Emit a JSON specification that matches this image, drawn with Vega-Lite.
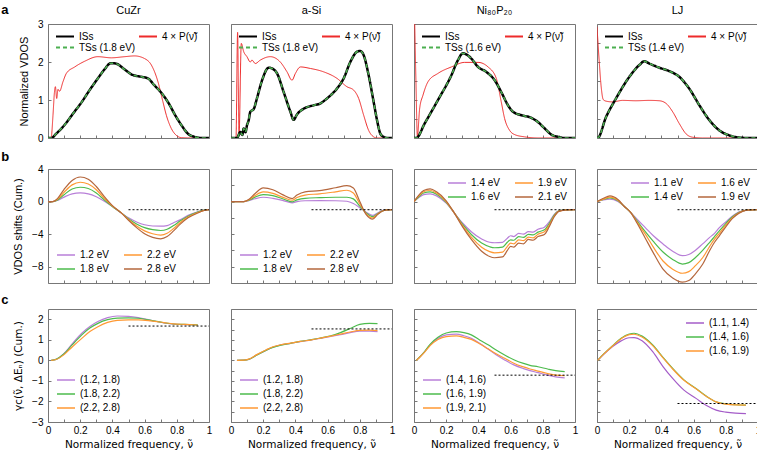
{
"$schema":"https://vega.github.io/schema/vega-lite/v6.json",
"padding":{"left":0,"top":3,"right":2,"bottom":0},
"config":{
 "font":"Liberation Sans",
 "view":{"stroke":"#777","strokeWidth":1},
 "axis":{"domain":false,"grid":false,"tickColor":"#777","tickSize":3,"labelFontSize":10,"titleFontSize":11,"titleFontWeight":"normal","labelColor":"#000","titleColor":"#000","labelOverlap":false,"labelFlush":false,"minExtent":0},
 "axisY":{"minExtent":0},
 "axisX":{"minExtent":0},
 "legend":{"labelFontSize":10,"symbolType":"stroke","symbolSize":324,"symbolStrokeWidth":1.5,"labelOffset":4,"padding":0,"rowPadding":2,"columnPadding":14,"clipHeight":12,"labelColor":"#000"}
},
"datasets":{
"a":[
{"p":"CuZr","s":"ISs","x":0,"y":0},{"p":"CuZr","s":"ISs","x":0.021,"y":0},{"p":"CuZr","s":"ISs","x":0.05,"y":0.11},{"p":"CuZr","s":"ISs","x":0.1,"y":0.33},{"p":"CuZr","s":"ISs","x":0.157,"y":0.65},{"p":"CuZr","s":"ISs","x":0.21,"y":0.95},{"p":"CuZr","s":"ISs","x":0.26,"y":1.27},{"p":"CuZr","s":"ISs","x":0.31,"y":1.57},{"p":"CuZr","s":"ISs","x":0.35,"y":1.8},{"p":"CuZr","s":"ISs","x":0.39,"y":1.97},{"p":"CuZr","s":"ISs","x":0.42,"y":1.96},{"p":"CuZr","s":"ISs","x":0.48,"y":1.79},{"p":"CuZr","s":"ISs","x":0.52,"y":1.67},{"p":"CuZr","s":"ISs","x":0.58,"y":1.61},{"p":"CuZr","s":"ISs","x":0.62,"y":1.57},{"p":"CuZr","s":"ISs","x":0.66,"y":1.39},{"p":"CuZr","s":"ISs","x":0.7,"y":1.21},{"p":"CuZr","s":"ISs","x":0.75,"y":0.91},{"p":"CuZr","s":"ISs","x":0.79,"y":0.6},{"p":"CuZr","s":"ISs","x":0.83,"y":0.33},{"p":"CuZr","s":"ISs","x":0.87,"y":0.11},{"p":"CuZr","s":"ISs","x":0.91,"y":0.03},{"p":"CuZr","s":"ISs","x":0.95,"y":0},{"p":"CuZr","s":"ISs","x":1,"y":0},
{"p":"CuZr","s":"TSs (1.8 eV)","x":0,"y":0},{"p":"CuZr","s":"TSs (1.8 eV)","x":0.021,"y":0},{"p":"CuZr","s":"TSs (1.8 eV)","x":0.05,"y":0.11},{"p":"CuZr","s":"TSs (1.8 eV)","x":0.1,"y":0.33},{"p":"CuZr","s":"TSs (1.8 eV)","x":0.157,"y":0.65},{"p":"CuZr","s":"TSs (1.8 eV)","x":0.21,"y":0.95},{"p":"CuZr","s":"TSs (1.8 eV)","x":0.26,"y":1.27},{"p":"CuZr","s":"TSs (1.8 eV)","x":0.31,"y":1.57},{"p":"CuZr","s":"TSs (1.8 eV)","x":0.35,"y":1.8},{"p":"CuZr","s":"TSs (1.8 eV)","x":0.39,"y":1.97},{"p":"CuZr","s":"TSs (1.8 eV)","x":0.42,"y":1.96},{"p":"CuZr","s":"TSs (1.8 eV)","x":0.48,"y":1.79},{"p":"CuZr","s":"TSs (1.8 eV)","x":0.52,"y":1.67},{"p":"CuZr","s":"TSs (1.8 eV)","x":0.58,"y":1.61},{"p":"CuZr","s":"TSs (1.8 eV)","x":0.62,"y":1.57},{"p":"CuZr","s":"TSs (1.8 eV)","x":0.66,"y":1.39},{"p":"CuZr","s":"TSs (1.8 eV)","x":0.7,"y":1.21},{"p":"CuZr","s":"TSs (1.8 eV)","x":0.75,"y":0.91},{"p":"CuZr","s":"TSs (1.8 eV)","x":0.79,"y":0.6},{"p":"CuZr","s":"TSs (1.8 eV)","x":0.83,"y":0.33},{"p":"CuZr","s":"TSs (1.8 eV)","x":0.87,"y":0.11},{"p":"CuZr","s":"TSs (1.8 eV)","x":0.91,"y":0.03},{"p":"CuZr","s":"TSs (1.8 eV)","x":0.95,"y":0},{"p":"CuZr","s":"TSs (1.8 eV)","x":1,"y":0},
{"p":"CuZr","s":"4 × P(ν̃)","x":0,"y":0},{"p":"CuZr","s":"4 × P(ν̃)","x":0.02,"y":0.02},{"p":"CuZr","s":"4 × P(ν̃)","x":0.031,"y":0.6},{"p":"CuZr","s":"4 × P(ν̃)","x":0.04,"y":1.2},{"p":"CuZr","s":"4 × P(ν̃)","x":0.046,"y":1.35},{"p":"CuZr","s":"4 × P(ν̃)","x":0.054,"y":1.04},{"p":"CuZr","s":"4 × P(ν̃)","x":0.062,"y":1.28},{"p":"CuZr","s":"4 × P(ν̃)","x":0.072,"y":1.23},{"p":"CuZr","s":"4 × P(ν̃)","x":0.093,"y":1.48},{"p":"CuZr","s":"4 × P(ν̃)","x":0.114,"y":1.7},{"p":"CuZr","s":"4 × P(ν̃)","x":0.166,"y":1.87},{"p":"CuZr","s":"4 × P(ν̃)","x":0.228,"y":2.02},{"p":"CuZr","s":"4 × P(ν̃)","x":0.31,"y":2.14},{"p":"CuZr","s":"4 × P(ν̃)","x":0.393,"y":2.11},{"p":"CuZr","s":"4 × P(ν̃)","x":0.476,"y":2.14},{"p":"CuZr","s":"4 × P(ν̃)","x":0.538,"y":2.16},{"p":"CuZr","s":"4 × P(ν̃)","x":0.6,"y":2.09},{"p":"CuZr","s":"4 × P(ν̃)","x":0.642,"y":1.92},{"p":"CuZr","s":"4 × P(ν̃)","x":0.683,"y":1.48},{"p":"CuZr","s":"4 × P(ν̃)","x":0.714,"y":0.95},{"p":"CuZr","s":"4 × P(ν̃)","x":0.735,"y":0.6},{"p":"CuZr","s":"4 × P(ν̃)","x":0.766,"y":0.25},{"p":"CuZr","s":"4 × P(ν̃)","x":0.797,"y":0.07},{"p":"CuZr","s":"4 × P(ν̃)","x":0.828,"y":0.01},{"p":"CuZr","s":"4 × P(ν̃)","x":0.9,"y":0},{"p":"CuZr","s":"4 × P(ν̃)","x":1,"y":0},
{"p":"aSi","s":"ISs","x":0,"y":0},{"p":"aSi","s":"ISs","x":0.037,"y":0},{"p":"aSi","s":"ISs","x":0.058,"y":0.16},{"p":"aSi","s":"ISs","x":0.07,"y":0.08},{"p":"aSi","s":"ISs","x":0.079,"y":0.25},{"p":"aSi","s":"ISs","x":0.09,"y":0.15},{"p":"aSi","s":"ISs","x":0.099,"y":0.33},{"p":"aSi","s":"ISs","x":0.11,"y":0.47},{"p":"aSi","s":"ISs","x":0.12,"y":0.69},{"p":"aSi","s":"ISs","x":0.141,"y":0.76},{"p":"aSi","s":"ISs","x":0.161,"y":1.04},{"p":"aSi","s":"ISs","x":0.193,"y":1.52},{"p":"aSi","s":"ISs","x":0.234,"y":1.85},{"p":"aSi","s":"ISs","x":0.255,"y":1.83},{"p":"aSi","s":"ISs","x":0.286,"y":1.7},{"p":"aSi","s":"ISs","x":0.327,"y":1.21},{"p":"aSi","s":"ISs","x":0.369,"y":0.69},{"p":"aSi","s":"ISs","x":0.389,"y":0.48},{"p":"aSi","s":"ISs","x":0.41,"y":0.62},{"p":"aSi","s":"ISs","x":0.451,"y":0.77},{"p":"aSi","s":"ISs","x":0.513,"y":0.86},{"p":"aSi","s":"ISs","x":0.555,"y":0.91},{"p":"aSi","s":"ISs","x":0.596,"y":1.04},{"p":"aSi","s":"ISs","x":0.658,"y":1.3},{"p":"aSi","s":"ISs","x":0.7,"y":1.57},{"p":"aSi","s":"ISs","x":0.741,"y":2.0},{"p":"aSi","s":"ISs","x":0.783,"y":2.27},{"p":"aSi","s":"ISs","x":0.803,"y":2.29},{"p":"aSi","s":"ISs","x":0.824,"y":2.18},{"p":"aSi","s":"ISs","x":0.855,"y":1.65},{"p":"aSi","s":"ISs","x":0.886,"y":0.95},{"p":"aSi","s":"ISs","x":0.907,"y":0.47},{"p":"aSi","s":"ISs","x":0.928,"y":0.11},{"p":"aSi","s":"ISs","x":0.948,"y":0.03},{"p":"aSi","s":"ISs","x":0.97,"y":0},{"p":"aSi","s":"ISs","x":1,"y":0},
{"p":"aSi","s":"TSs (1.8 eV)","x":0,"y":0},{"p":"aSi","s":"TSs (1.8 eV)","x":0.037,"y":0},{"p":"aSi","s":"TSs (1.8 eV)","x":0.058,"y":0.16},{"p":"aSi","s":"TSs (1.8 eV)","x":0.07,"y":0.08},{"p":"aSi","s":"TSs (1.8 eV)","x":0.079,"y":0.25},{"p":"aSi","s":"TSs (1.8 eV)","x":0.09,"y":0.15},{"p":"aSi","s":"TSs (1.8 eV)","x":0.099,"y":0.33},{"p":"aSi","s":"TSs (1.8 eV)","x":0.11,"y":0.47},{"p":"aSi","s":"TSs (1.8 eV)","x":0.12,"y":0.69},{"p":"aSi","s":"TSs (1.8 eV)","x":0.141,"y":0.76},{"p":"aSi","s":"TSs (1.8 eV)","x":0.161,"y":1.04},{"p":"aSi","s":"TSs (1.8 eV)","x":0.193,"y":1.52},{"p":"aSi","s":"TSs (1.8 eV)","x":0.234,"y":1.85},{"p":"aSi","s":"TSs (1.8 eV)","x":0.255,"y":1.83},{"p":"aSi","s":"TSs (1.8 eV)","x":0.286,"y":1.7},{"p":"aSi","s":"TSs (1.8 eV)","x":0.327,"y":1.21},{"p":"aSi","s":"TSs (1.8 eV)","x":0.369,"y":0.69},{"p":"aSi","s":"TSs (1.8 eV)","x":0.389,"y":0.48},{"p":"aSi","s":"TSs (1.8 eV)","x":0.41,"y":0.62},{"p":"aSi","s":"TSs (1.8 eV)","x":0.451,"y":0.77},{"p":"aSi","s":"TSs (1.8 eV)","x":0.513,"y":0.86},{"p":"aSi","s":"TSs (1.8 eV)","x":0.555,"y":0.91},{"p":"aSi","s":"TSs (1.8 eV)","x":0.596,"y":1.04},{"p":"aSi","s":"TSs (1.8 eV)","x":0.658,"y":1.3},{"p":"aSi","s":"TSs (1.8 eV)","x":0.7,"y":1.57},{"p":"aSi","s":"TSs (1.8 eV)","x":0.741,"y":2.0},{"p":"aSi","s":"TSs (1.8 eV)","x":0.783,"y":2.27},{"p":"aSi","s":"TSs (1.8 eV)","x":0.803,"y":2.29},{"p":"aSi","s":"TSs (1.8 eV)","x":0.824,"y":2.18},{"p":"aSi","s":"TSs (1.8 eV)","x":0.855,"y":1.65},{"p":"aSi","s":"TSs (1.8 eV)","x":0.886,"y":0.95},{"p":"aSi","s":"TSs (1.8 eV)","x":0.907,"y":0.47},{"p":"aSi","s":"TSs (1.8 eV)","x":0.928,"y":0.11},{"p":"aSi","s":"TSs (1.8 eV)","x":0.948,"y":0.03},{"p":"aSi","s":"TSs (1.8 eV)","x":0.97,"y":0},{"p":"aSi","s":"TSs (1.8 eV)","x":1,"y":0},
{"p":"aSi","s":"4 × P(ν̃)","x":0,"y":0},{"p":"aSi","s":"4 × P(ν̃)","x":0.031,"y":0},{"p":"aSi","s":"4 × P(ν̃)","x":0.041,"y":2.78},{"p":"aSi","s":"4 × P(ν̃)","x":0.05,"y":0.07},{"p":"aSi","s":"4 × P(ν̃)","x":0.064,"y":2.49},{"p":"aSi","s":"4 × P(ν̃)","x":0.079,"y":2.27},{"p":"aSi","s":"4 × P(ν̃)","x":0.099,"y":2.14},{"p":"aSi","s":"4 × P(ν̃)","x":0.12,"y":2.0},{"p":"aSi","s":"4 × P(ν̃)","x":0.13,"y":2.05},{"p":"aSi","s":"4 × P(ν̃)","x":0.151,"y":1.96},{"p":"aSi","s":"4 × P(ν̃)","x":0.182,"y":2.05},{"p":"aSi","s":"4 × P(ν̃)","x":0.244,"y":2.14},{"p":"aSi","s":"4 × P(ν̃)","x":0.306,"y":2.0},{"p":"aSi","s":"4 × P(ν̃)","x":0.348,"y":1.74},{"p":"aSi","s":"4 × P(ν̃)","x":0.379,"y":1.52},{"p":"aSi","s":"4 × P(ν̃)","x":0.4,"y":1.7},{"p":"aSi","s":"4 × P(ν̃)","x":0.431,"y":1.87},{"p":"aSi","s":"4 × P(ν̃)","x":0.493,"y":1.83},{"p":"aSi","s":"4 × P(ν̃)","x":0.576,"y":1.74},{"p":"aSi","s":"4 × P(ν̃)","x":0.658,"y":1.57},{"p":"aSi","s":"4 × P(ν̃)","x":0.72,"y":1.35},{"p":"aSi","s":"4 × P(ν̃)","x":0.762,"y":1.26},{"p":"aSi","s":"4 × P(ν̃)","x":0.793,"y":1.04},{"p":"aSi","s":"4 × P(ν̃)","x":0.824,"y":0.6},{"p":"aSi","s":"4 × P(ν̃)","x":0.855,"y":0.2},{"p":"aSi","s":"4 × P(ν̃)","x":0.886,"y":0.03},{"p":"aSi","s":"4 × P(ν̃)","x":0.907,"y":0},{"p":"aSi","s":"4 × P(ν̃)","x":1,"y":0},
{"p":"Ni","s":"ISs","x":0,"y":0},{"p":"Ni","s":"ISs","x":0.014,"y":0},{"p":"Ni","s":"ISs","x":0.066,"y":0.38},{"p":"Ni","s":"ISs","x":0.149,"y":1.0},{"p":"Ni","s":"ISs","x":0.232,"y":1.65},{"p":"Ni","s":"ISs","x":0.273,"y":2.05},{"p":"Ni","s":"ISs","x":0.304,"y":2.23},{"p":"Ni","s":"ISs","x":0.325,"y":2.2},{"p":"Ni","s":"ISs","x":0.356,"y":2.09},{"p":"Ni","s":"ISs","x":0.398,"y":1.87},{"p":"Ni","s":"ISs","x":0.449,"y":1.74},{"p":"Ni","s":"ISs","x":0.501,"y":1.52},{"p":"Ni","s":"ISs","x":0.542,"y":1.21},{"p":"Ni","s":"ISs","x":0.584,"y":0.86},{"p":"Ni","s":"ISs","x":0.615,"y":0.69},{"p":"Ni","s":"ISs","x":0.667,"y":0.6},{"p":"Ni","s":"ISs","x":0.729,"y":0.53},{"p":"Ni","s":"ISs","x":0.77,"y":0.42},{"p":"Ni","s":"ISs","x":0.812,"y":0.25},{"p":"Ni","s":"ISs","x":0.853,"y":0.09},{"p":"Ni","s":"ISs","x":0.894,"y":0.03},{"p":"Ni","s":"ISs","x":0.936,"y":0},{"p":"Ni","s":"ISs","x":1,"y":0},
{"p":"Ni","s":"TSs (1.6 eV)","x":0,"y":0},{"p":"Ni","s":"TSs (1.6 eV)","x":0.014,"y":0},{"p":"Ni","s":"TSs (1.6 eV)","x":0.066,"y":0.38},{"p":"Ni","s":"TSs (1.6 eV)","x":0.149,"y":1.0},{"p":"Ni","s":"TSs (1.6 eV)","x":0.232,"y":1.65},{"p":"Ni","s":"TSs (1.6 eV)","x":0.273,"y":2.05},{"p":"Ni","s":"TSs (1.6 eV)","x":0.304,"y":2.23},{"p":"Ni","s":"TSs (1.6 eV)","x":0.325,"y":2.2},{"p":"Ni","s":"TSs (1.6 eV)","x":0.356,"y":2.09},{"p":"Ni","s":"TSs (1.6 eV)","x":0.398,"y":1.87},{"p":"Ni","s":"TSs (1.6 eV)","x":0.449,"y":1.74},{"p":"Ni","s":"TSs (1.6 eV)","x":0.501,"y":1.52},{"p":"Ni","s":"TSs (1.6 eV)","x":0.542,"y":1.21},{"p":"Ni","s":"TSs (1.6 eV)","x":0.584,"y":0.86},{"p":"Ni","s":"TSs (1.6 eV)","x":0.615,"y":0.69},{"p":"Ni","s":"TSs (1.6 eV)","x":0.667,"y":0.6},{"p":"Ni","s":"TSs (1.6 eV)","x":0.729,"y":0.53},{"p":"Ni","s":"TSs (1.6 eV)","x":0.77,"y":0.42},{"p":"Ni","s":"TSs (1.6 eV)","x":0.812,"y":0.25},{"p":"Ni","s":"TSs (1.6 eV)","x":0.853,"y":0.09},{"p":"Ni","s":"TSs (1.6 eV)","x":0.894,"y":0.03},{"p":"Ni","s":"TSs (1.6 eV)","x":0.936,"y":0},{"p":"Ni","s":"TSs (1.6 eV)","x":1,"y":0},
{"p":"Ni","s":"4 × P(ν̃)","x":0.003,"y":3.3},{"p":"Ni","s":"4 × P(ν̃)","x":0.012,"y":1.5},{"p":"Ni","s":"4 × P(ν̃)","x":0.021,"y":0.05},{"p":"Ni","s":"4 × P(ν̃)","x":0.035,"y":0.77},{"p":"Ni","s":"4 × P(ν̃)","x":0.056,"y":1.13},{"p":"Ni","s":"4 × P(ν̃)","x":0.087,"y":1.48},{"p":"Ni","s":"4 × P(ν̃)","x":0.149,"y":1.7},{"p":"Ni","s":"4 × P(ν̃)","x":0.232,"y":1.87},{"p":"Ni","s":"4 × P(ν̃)","x":0.315,"y":1.99},{"p":"Ni","s":"4 × P(ν̃)","x":0.398,"y":1.99},{"p":"Ni","s":"4 × P(ν̃)","x":0.46,"y":1.87},{"p":"Ni","s":"4 × P(ν̃)","x":0.511,"y":1.57},{"p":"Ni","s":"4 × P(ν̃)","x":0.542,"y":0.95},{"p":"Ni","s":"4 × P(ν̃)","x":0.563,"y":0.51},{"p":"Ni","s":"4 × P(ν̃)","x":0.594,"y":0.2},{"p":"Ni","s":"4 × P(ν̃)","x":0.625,"y":0.09},{"p":"Ni","s":"4 × P(ν̃)","x":0.687,"y":0.03},{"p":"Ni","s":"4 × P(ν̃)","x":0.77,"y":0},{"p":"Ni","s":"4 × P(ν̃)","x":1,"y":0},
{"p":"LJ","s":"ISs","x":0,"y":0},{"p":"LJ","s":"ISs","x":0.004,"y":0},{"p":"LJ","s":"ISs","x":0.056,"y":0.55},{"p":"LJ","s":"ISs","x":0.118,"y":1.04},{"p":"LJ","s":"ISs","x":0.201,"y":1.61},{"p":"LJ","s":"ISs","x":0.263,"y":1.92},{"p":"LJ","s":"ISs","x":0.294,"y":2.02},{"p":"LJ","s":"ISs","x":0.325,"y":1.96},{"p":"LJ","s":"ISs","x":0.387,"y":1.85},{"p":"LJ","s":"ISs","x":0.449,"y":1.76},{"p":"LJ","s":"ISs","x":0.511,"y":1.61},{"p":"LJ","s":"ISs","x":0.573,"y":1.3},{"p":"LJ","s":"ISs","x":0.636,"y":0.86},{"p":"LJ","s":"ISs","x":0.698,"y":0.47},{"p":"LJ","s":"ISs","x":0.76,"y":0.2},{"p":"LJ","s":"ISs","x":0.822,"y":0.07},{"p":"LJ","s":"ISs","x":0.884,"y":0.01},{"p":"LJ","s":"ISs","x":0.946,"y":0},{"p":"LJ","s":"ISs","x":1,"y":0},
{"p":"LJ","s":"TSs (1.4 eV)","x":0,"y":0},{"p":"LJ","s":"TSs (1.4 eV)","x":0.004,"y":0},{"p":"LJ","s":"TSs (1.4 eV)","x":0.056,"y":0.55},{"p":"LJ","s":"TSs (1.4 eV)","x":0.118,"y":1.04},{"p":"LJ","s":"TSs (1.4 eV)","x":0.201,"y":1.61},{"p":"LJ","s":"TSs (1.4 eV)","x":0.263,"y":1.92},{"p":"LJ","s":"TSs (1.4 eV)","x":0.294,"y":2.02},{"p":"LJ","s":"TSs (1.4 eV)","x":0.325,"y":1.96},{"p":"LJ","s":"TSs (1.4 eV)","x":0.387,"y":1.85},{"p":"LJ","s":"TSs (1.4 eV)","x":0.449,"y":1.76},{"p":"LJ","s":"TSs (1.4 eV)","x":0.511,"y":1.61},{"p":"LJ","s":"TSs (1.4 eV)","x":0.573,"y":1.3},{"p":"LJ","s":"TSs (1.4 eV)","x":0.636,"y":0.86},{"p":"LJ","s":"TSs (1.4 eV)","x":0.698,"y":0.47},{"p":"LJ","s":"TSs (1.4 eV)","x":0.76,"y":0.2},{"p":"LJ","s":"TSs (1.4 eV)","x":0.822,"y":0.07},{"p":"LJ","s":"TSs (1.4 eV)","x":0.884,"y":0.01},{"p":"LJ","s":"TSs (1.4 eV)","x":0.946,"y":0},{"p":"LJ","s":"TSs (1.4 eV)","x":1,"y":0},
{"p":"LJ","s":"4 × P(ν̃)","x":0,"y":2.93},{"p":"LJ","s":"4 × P(ν̃)","x":0.014,"y":2.0},{"p":"LJ","s":"4 × P(ν̃)","x":0.025,"y":1.39},{"p":"LJ","s":"4 × P(ν̃)","x":0.039,"y":1.01},{"p":"LJ","s":"4 × P(ν̃)","x":0.056,"y":0.97},{"p":"LJ","s":"4 × P(ν̃)","x":0.097,"y":0.95},{"p":"LJ","s":"4 × P(ν̃)","x":0.159,"y":0.99},{"p":"LJ","s":"4 × P(ν̃)","x":0.242,"y":0.98},{"p":"LJ","s":"4 × P(ν̃)","x":0.325,"y":0.99},{"p":"LJ","s":"4 × P(ν̃)","x":0.387,"y":0.98},{"p":"LJ","s":"4 × P(ν̃)","x":0.429,"y":0.91},{"p":"LJ","s":"4 × P(ν̃)","x":0.47,"y":0.69},{"p":"LJ","s":"4 × P(ν̃)","x":0.511,"y":0.38},{"p":"LJ","s":"4 × P(ν̃)","x":0.553,"y":0.11},{"p":"LJ","s":"4 × P(ν̃)","x":0.594,"y":0.02},{"p":"LJ","s":"4 × P(ν̃)","x":0.656,"y":0},{"p":"LJ","s":"4 × P(ν̃)","x":1,"y":0}
],
"b":[
{"p":"CuZr","s":"1.2 eV","x":0,"y":0},{"p":"CuZr","s":"1.2 eV","x":0.03,"y":0},{"p":"CuZr","s":"1.2 eV","x":0.06,"y":0.15},{"p":"CuZr","s":"1.2 eV","x":0.1,"y":0.55},{"p":"CuZr","s":"1.2 eV","x":0.15,"y":0.95},{"p":"CuZr","s":"1.2 eV","x":0.2,"y":1.06},{"p":"CuZr","s":"1.2 eV","x":0.25,"y":0.95},{"p":"CuZr","s":"1.2 eV","x":0.3,"y":0.6},{"p":"CuZr","s":"1.2 eV","x":0.35,"y":0.05},{"p":"CuZr","s":"1.2 eV","x":0.4,"y":-0.6},{"p":"CuZr","s":"1.2 eV","x":0.455,"y":-1.39},{"p":"CuZr","s":"1.2 eV","x":0.5,"y":-2.0},{"p":"CuZr","s":"1.2 eV","x":0.55,"y":-2.5},{"p":"CuZr","s":"1.2 eV","x":0.6,"y":-2.85},{"p":"CuZr","s":"1.2 eV","x":0.65,"y":-3.0},{"p":"CuZr","s":"1.2 eV","x":0.7,"y":-3.02},{"p":"CuZr","s":"1.2 eV","x":0.74,"y":-2.95},{"p":"CuZr","s":"1.2 eV","x":0.78,"y":-2.6},{"p":"CuZr","s":"1.2 eV","x":0.82,"y":-2.25},{"p":"CuZr","s":"1.2 eV","x":0.87,"y":-1.7},{"p":"CuZr","s":"1.2 eV","x":0.93,"y":-1.25},{"p":"CuZr","s":"1.2 eV","x":0.97,"y":-1.05},{"p":"CuZr","s":"1.2 eV","x":1,"y":-1.0},
{"p":"CuZr","s":"1.8 eV","x":0,"y":0},{"p":"CuZr","s":"1.8 eV","x":0.03,"y":0},{"p":"CuZr","s":"1.8 eV","x":0.06,"y":0.2},{"p":"CuZr","s":"1.8 eV","x":0.1,"y":0.85},{"p":"CuZr","s":"1.8 eV","x":0.15,"y":1.55},{"p":"CuZr","s":"1.8 eV","x":0.2,"y":1.76},{"p":"CuZr","s":"1.8 eV","x":0.25,"y":1.6},{"p":"CuZr","s":"1.8 eV","x":0.3,"y":1.05},{"p":"CuZr","s":"1.8 eV","x":0.35,"y":0.2},{"p":"CuZr","s":"1.8 eV","x":0.4,"y":-0.6},{"p":"CuZr","s":"1.8 eV","x":0.455,"y":-1.39},{"p":"CuZr","s":"1.8 eV","x":0.5,"y":-2.1},{"p":"CuZr","s":"1.8 eV","x":0.55,"y":-2.75},{"p":"CuZr","s":"1.8 eV","x":0.6,"y":-3.2},{"p":"CuZr","s":"1.8 eV","x":0.65,"y":-3.45},{"p":"CuZr","s":"1.8 eV","x":0.7,"y":-3.55},{"p":"CuZr","s":"1.8 eV","x":0.74,"y":-3.4},{"p":"CuZr","s":"1.8 eV","x":0.78,"y":-2.95},{"p":"CuZr","s":"1.8 eV","x":0.82,"y":-2.4},{"p":"CuZr","s":"1.8 eV","x":0.87,"y":-1.8},{"p":"CuZr","s":"1.8 eV","x":0.93,"y":-1.3},{"p":"CuZr","s":"1.8 eV","x":0.97,"y":-1.05},{"p":"CuZr","s":"1.8 eV","x":1,"y":-1.0},
{"p":"CuZr","s":"2.2 eV","x":0,"y":0},{"p":"CuZr","s":"2.2 eV","x":0.03,"y":0},{"p":"CuZr","s":"2.2 eV","x":0.06,"y":0.3},{"p":"CuZr","s":"2.2 eV","x":0.1,"y":1.15},{"p":"CuZr","s":"2.2 eV","x":0.15,"y":2.05},{"p":"CuZr","s":"2.2 eV","x":0.2,"y":2.37},{"p":"CuZr","s":"2.2 eV","x":0.25,"y":2.15},{"p":"CuZr","s":"2.2 eV","x":0.3,"y":1.45},{"p":"CuZr","s":"2.2 eV","x":0.35,"y":0.4},{"p":"CuZr","s":"2.2 eV","x":0.4,"y":-0.55},{"p":"CuZr","s":"2.2 eV","x":0.455,"y":-1.39},{"p":"CuZr","s":"2.2 eV","x":0.5,"y":-2.2},{"p":"CuZr","s":"2.2 eV","x":0.55,"y":-3.0},{"p":"CuZr","s":"2.2 eV","x":0.6,"y":-3.6},{"p":"CuZr","s":"2.2 eV","x":0.65,"y":-3.95},{"p":"CuZr","s":"2.2 eV","x":0.7,"y":-4.12},{"p":"CuZr","s":"2.2 eV","x":0.74,"y":-3.9},{"p":"CuZr","s":"2.2 eV","x":0.78,"y":-3.3},{"p":"CuZr","s":"2.2 eV","x":0.82,"y":-2.6},{"p":"CuZr","s":"2.2 eV","x":0.87,"y":-1.9},{"p":"CuZr","s":"2.2 eV","x":0.93,"y":-1.35},{"p":"CuZr","s":"2.2 eV","x":0.97,"y":-1.08},{"p":"CuZr","s":"2.2 eV","x":1,"y":-1.0},
{"p":"CuZr","s":"2.8 eV","x":0,"y":0},{"p":"CuZr","s":"2.8 eV","x":0.03,"y":0},{"p":"CuZr","s":"2.8 eV","x":0.06,"y":0.4},{"p":"CuZr","s":"2.8 eV","x":0.1,"y":1.5},{"p":"CuZr","s":"2.8 eV","x":0.15,"y":2.6},{"p":"CuZr","s":"2.8 eV","x":0.2,"y":3.02},{"p":"CuZr","s":"2.8 eV","x":0.25,"y":2.75},{"p":"CuZr","s":"2.8 eV","x":0.3,"y":1.85},{"p":"CuZr","s":"2.8 eV","x":0.35,"y":0.6},{"p":"CuZr","s":"2.8 eV","x":0.4,"y":-0.5},{"p":"CuZr","s":"2.8 eV","x":0.455,"y":-1.39},{"p":"CuZr","s":"2.8 eV","x":0.5,"y":-2.3},{"p":"CuZr","s":"2.8 eV","x":0.55,"y":-3.2},{"p":"CuZr","s":"2.8 eV","x":0.6,"y":-3.95},{"p":"CuZr","s":"2.8 eV","x":0.65,"y":-4.4},{"p":"CuZr","s":"2.8 eV","x":0.7,"y":-4.57},{"p":"CuZr","s":"2.8 eV","x":0.74,"y":-4.3},{"p":"CuZr","s":"2.8 eV","x":0.78,"y":-3.6},{"p":"CuZr","s":"2.8 eV","x":0.82,"y":-2.8},{"p":"CuZr","s":"2.8 eV","x":0.87,"y":-2.0},{"p":"CuZr","s":"2.8 eV","x":0.93,"y":-1.4},{"p":"CuZr","s":"2.8 eV","x":0.97,"y":-1.1},{"p":"CuZr","s":"2.8 eV","x":1,"y":-1.0},
{"p":"aSi","s":"1.2 eV","x":0,"y":0},{"p":"aSi","s":"1.2 eV","x":0.08,"y":0},{"p":"aSi","s":"1.2 eV","x":0.11,"y":0.12},{"p":"aSi","s":"1.2 eV","x":0.15,"y":0.35},{"p":"aSi","s":"1.2 eV","x":0.2,"y":0.53},{"p":"aSi","s":"1.2 eV","x":0.26,"y":0.4},{"p":"aSi","s":"1.2 eV","x":0.32,"y":0.15},{"p":"aSi","s":"1.2 eV","x":0.38,"y":-0.16},{"p":"aSi","s":"1.2 eV","x":0.41,"y":0.0},{"p":"aSi","s":"1.2 eV","x":0.46,"y":0.1},{"p":"aSi","s":"1.2 eV","x":0.55,"y":0.12},{"p":"aSi","s":"1.2 eV","x":0.65,"y":0.1},{"p":"aSi","s":"1.2 eV","x":0.72,"y":0.04},{"p":"aSi","s":"1.2 eV","x":0.76,"y":-0.24},{"p":"aSi","s":"1.2 eV","x":0.8,"y":-0.75},{"p":"aSi","s":"1.2 eV","x":0.84,"y":-1.3},{"p":"aSi","s":"1.2 eV","x":0.88,"y":-1.7},{"p":"aSi","s":"1.2 eV","x":0.91,"y":-1.4},{"p":"aSi","s":"1.2 eV","x":0.95,"y":-1.05},{"p":"aSi","s":"1.2 eV","x":1,"y":-1.0},
{"p":"aSi","s":"1.8 eV","x":0,"y":0},{"p":"aSi","s":"1.8 eV","x":0.08,"y":0},{"p":"aSi","s":"1.8 eV","x":0.11,"y":0.15},{"p":"aSi","s":"1.8 eV","x":0.15,"y":0.55},{"p":"aSi","s":"1.8 eV","x":0.2,"y":0.86},{"p":"aSi","s":"1.8 eV","x":0.26,"y":0.72},{"p":"aSi","s":"1.8 eV","x":0.32,"y":0.35},{"p":"aSi","s":"1.8 eV","x":0.38,"y":-0.04},{"p":"aSi","s":"1.8 eV","x":0.41,"y":0.2},{"p":"aSi","s":"1.8 eV","x":0.46,"y":0.4},{"p":"aSi","s":"1.8 eV","x":0.55,"y":0.48},{"p":"aSi","s":"1.8 eV","x":0.65,"y":0.53},{"p":"aSi","s":"1.8 eV","x":0.72,"y":0.53},{"p":"aSi","s":"1.8 eV","x":0.76,"y":0.33},{"p":"aSi","s":"1.8 eV","x":0.8,"y":-0.55},{"p":"aSi","s":"1.8 eV","x":0.84,"y":-1.4},{"p":"aSi","s":"1.8 eV","x":0.88,"y":-1.85},{"p":"aSi","s":"1.8 eV","x":0.91,"y":-1.5},{"p":"aSi","s":"1.8 eV","x":0.95,"y":-1.08},{"p":"aSi","s":"1.8 eV","x":1,"y":-1.0},
{"p":"aSi","s":"2.2 eV","x":0,"y":0},{"p":"aSi","s":"2.2 eV","x":0.08,"y":0},{"p":"aSi","s":"2.2 eV","x":0.11,"y":0.2},{"p":"aSi","s":"2.2 eV","x":0.15,"y":0.75},{"p":"aSi","s":"2.2 eV","x":0.2,"y":1.18},{"p":"aSi","s":"2.2 eV","x":0.26,"y":1.0},{"p":"aSi","s":"2.2 eV","x":0.32,"y":0.55},{"p":"aSi","s":"2.2 eV","x":0.38,"y":0.16},{"p":"aSi","s":"2.2 eV","x":0.41,"y":0.5},{"p":"aSi","s":"2.2 eV","x":0.46,"y":0.8},{"p":"aSi","s":"2.2 eV","x":0.55,"y":0.95},{"p":"aSi","s":"2.2 eV","x":0.65,"y":1.2},{"p":"aSi","s":"2.2 eV","x":0.72,"y":1.39},{"p":"aSi","s":"2.2 eV","x":0.76,"y":1.06},{"p":"aSi","s":"2.2 eV","x":0.8,"y":-0.3},{"p":"aSi","s":"2.2 eV","x":0.84,"y":-1.5},{"p":"aSi","s":"2.2 eV","x":0.88,"y":-2.0},{"p":"aSi","s":"2.2 eV","x":0.91,"y":-1.55},{"p":"aSi","s":"2.2 eV","x":0.95,"y":-1.1},{"p":"aSi","s":"2.2 eV","x":1,"y":-1.0},
{"p":"aSi","s":"2.8 eV","x":0,"y":0},{"p":"aSi","s":"2.8 eV","x":0.08,"y":0},{"p":"aSi","s":"2.8 eV","x":0.11,"y":0.25},{"p":"aSi","s":"2.8 eV","x":0.15,"y":1.0},{"p":"aSi","s":"2.8 eV","x":0.2,"y":1.67},{"p":"aSi","s":"2.8 eV","x":0.26,"y":1.45},{"p":"aSi","s":"2.8 eV","x":0.32,"y":0.85},{"p":"aSi","s":"2.8 eV","x":0.38,"y":0.37},{"p":"aSi","s":"2.8 eV","x":0.41,"y":0.8},{"p":"aSi","s":"2.8 eV","x":0.46,"y":1.2},{"p":"aSi","s":"2.8 eV","x":0.55,"y":1.35},{"p":"aSi","s":"2.8 eV","x":0.65,"y":1.7},{"p":"aSi","s":"2.8 eV","x":0.72,"y":1.96},{"p":"aSi","s":"2.8 eV","x":0.76,"y":1.67},{"p":"aSi","s":"2.8 eV","x":0.8,"y":0.0},{"p":"aSi","s":"2.8 eV","x":0.84,"y":-1.6},{"p":"aSi","s":"2.8 eV","x":0.88,"y":-2.15},{"p":"aSi","s":"2.8 eV","x":0.91,"y":-1.6},{"p":"aSi","s":"2.8 eV","x":0.95,"y":-1.1},{"p":"aSi","s":"2.8 eV","x":1,"y":-1.0},
{"p":"Ni","s":"1.4 eV","x":0,"y":0},{"p":"Ni","s":"1.4 eV","x":0.03,"y":0.5},{"p":"Ni","s":"1.4 eV","x":0.06,"y":0.85},{"p":"Ni","s":"1.4 eV","x":0.1,"y":0.94},{"p":"Ni","s":"1.4 eV","x":0.14,"y":0.7},{"p":"Ni","s":"1.4 eV","x":0.2,"y":-0.2},{"p":"Ni","s":"1.4 eV","x":0.25,"y":-1.39},{"p":"Ni","s":"1.4 eV","x":0.3,"y":-2.6},{"p":"Ni","s":"1.4 eV","x":0.356,"y":-3.7},{"p":"Ni","s":"1.4 eV","x":0.42,"y":-4.6},{"p":"Ni","s":"1.4 eV","x":0.47,"y":-5.0},{"p":"Ni","s":"1.4 eV","x":0.5,"y":-5.06},{"p":"Ni","s":"1.4 eV","x":0.55,"y":-5.0},{"p":"Ni","s":"1.4 eV","x":0.58,"y":-4.5},{"p":"Ni","s":"1.4 eV","x":0.6,"y":-4.2},{"p":"Ni","s":"1.4 eV","x":0.62,"y":-4.3},{"p":"Ni","s":"1.4 eV","x":0.65,"y":-3.9},{"p":"Ni","s":"1.4 eV","x":0.68,"y":-4.0},{"p":"Ni","s":"1.4 eV","x":0.71,"y":-3.7},{"p":"Ni","s":"1.4 eV","x":0.74,"y":-3.75},{"p":"Ni","s":"1.4 eV","x":0.77,"y":-3.4},{"p":"Ni","s":"1.4 eV","x":0.81,"y":-3.14},{"p":"Ni","s":"1.4 eV","x":0.84,"y":-2.5},{"p":"Ni","s":"1.4 eV","x":0.87,"y":-1.6},{"p":"Ni","s":"1.4 eV","x":0.9,"y":-1.15},{"p":"Ni","s":"1.4 eV","x":0.95,"y":-1.02},{"p":"Ni","s":"1.4 eV","x":1,"y":-1.0},
{"p":"Ni","s":"1.6 eV","x":0,"y":0},{"p":"Ni","s":"1.6 eV","x":0.03,"y":0.6},{"p":"Ni","s":"1.6 eV","x":0.06,"y":1.05},{"p":"Ni","s":"1.6 eV","x":0.1,"y":1.18},{"p":"Ni","s":"1.6 eV","x":0.14,"y":0.9},{"p":"Ni","s":"1.6 eV","x":0.2,"y":-0.1},{"p":"Ni","s":"1.6 eV","x":0.25,"y":-1.39},{"p":"Ni","s":"1.6 eV","x":0.3,"y":-2.75},{"p":"Ni","s":"1.6 eV","x":0.356,"y":-4.04},{"p":"Ni","s":"1.6 eV","x":0.42,"y":-5.1},{"p":"Ni","s":"1.6 eV","x":0.47,"y":-5.55},{"p":"Ni","s":"1.6 eV","x":0.5,"y":-5.67},{"p":"Ni","s":"1.6 eV","x":0.55,"y":-5.6},{"p":"Ni","s":"1.6 eV","x":0.58,"y":-5.0},{"p":"Ni","s":"1.6 eV","x":0.6,"y":-4.7},{"p":"Ni","s":"1.6 eV","x":0.62,"y":-4.75},{"p":"Ni","s":"1.6 eV","x":0.65,"y":-4.3},{"p":"Ni","s":"1.6 eV","x":0.68,"y":-4.4},{"p":"Ni","s":"1.6 eV","x":0.71,"y":-4.04},{"p":"Ni","s":"1.6 eV","x":0.74,"y":-4.1},{"p":"Ni","s":"1.6 eV","x":0.77,"y":-3.75},{"p":"Ni","s":"1.6 eV","x":0.81,"y":-3.47},{"p":"Ni","s":"1.6 eV","x":0.84,"y":-2.7},{"p":"Ni","s":"1.6 eV","x":0.87,"y":-1.7},{"p":"Ni","s":"1.6 eV","x":0.9,"y":-1.15},{"p":"Ni","s":"1.6 eV","x":0.95,"y":-1.02},{"p":"Ni","s":"1.6 eV","x":1,"y":-1.0},
{"p":"Ni","s":"1.9 eV","x":0,"y":0},{"p":"Ni","s":"1.9 eV","x":0.03,"y":0.7},{"p":"Ni","s":"1.9 eV","x":0.06,"y":1.2},{"p":"Ni","s":"1.9 eV","x":0.1,"y":1.39},{"p":"Ni","s":"1.9 eV","x":0.14,"y":1.05},{"p":"Ni","s":"1.9 eV","x":0.2,"y":0.0},{"p":"Ni","s":"1.9 eV","x":0.25,"y":-1.39},{"p":"Ni","s":"1.9 eV","x":0.3,"y":-2.9},{"p":"Ni","s":"1.9 eV","x":0.356,"y":-4.37},{"p":"Ni","s":"1.9 eV","x":0.42,"y":-5.6},{"p":"Ni","s":"1.9 eV","x":0.47,"y":-6.15},{"p":"Ni","s":"1.9 eV","x":0.5,"y":-6.29},{"p":"Ni","s":"1.9 eV","x":0.55,"y":-6.2},{"p":"Ni","s":"1.9 eV","x":0.58,"y":-5.5},{"p":"Ni","s":"1.9 eV","x":0.6,"y":-5.1},{"p":"Ni","s":"1.9 eV","x":0.62,"y":-5.2},{"p":"Ni","s":"1.9 eV","x":0.65,"y":-4.7},{"p":"Ni","s":"1.9 eV","x":0.68,"y":-4.8},{"p":"Ni","s":"1.9 eV","x":0.71,"y":-4.37},{"p":"Ni","s":"1.9 eV","x":0.74,"y":-4.45},{"p":"Ni","s":"1.9 eV","x":0.77,"y":-4.0},{"p":"Ni","s":"1.9 eV","x":0.81,"y":-3.71},{"p":"Ni","s":"1.9 eV","x":0.84,"y":-2.9},{"p":"Ni","s":"1.9 eV","x":0.87,"y":-1.8},{"p":"Ni","s":"1.9 eV","x":0.9,"y":-1.18},{"p":"Ni","s":"1.9 eV","x":0.95,"y":-1.02},{"p":"Ni","s":"1.9 eV","x":1,"y":-1.0},
{"p":"Ni","s":"2.1 eV","x":0,"y":0},{"p":"Ni","s":"2.1 eV","x":0.03,"y":0.8},{"p":"Ni","s":"2.1 eV","x":0.06,"y":1.35},{"p":"Ni","s":"2.1 eV","x":0.1,"y":1.55},{"p":"Ni","s":"2.1 eV","x":0.14,"y":1.2},{"p":"Ni","s":"2.1 eV","x":0.2,"y":0.1},{"p":"Ni","s":"2.1 eV","x":0.25,"y":-1.39},{"p":"Ni","s":"2.1 eV","x":0.3,"y":-3.05},{"p":"Ni","s":"2.1 eV","x":0.356,"y":-4.65},{"p":"Ni","s":"2.1 eV","x":0.42,"y":-6.1},{"p":"Ni","s":"2.1 eV","x":0.47,"y":-6.75},{"p":"Ni","s":"2.1 eV","x":0.5,"y":-6.9},{"p":"Ni","s":"2.1 eV","x":0.55,"y":-6.8},{"p":"Ni","s":"2.1 eV","x":0.58,"y":-6.0},{"p":"Ni","s":"2.1 eV","x":0.6,"y":-5.5},{"p":"Ni","s":"2.1 eV","x":0.62,"y":-5.6},{"p":"Ni","s":"2.1 eV","x":0.65,"y":-5.1},{"p":"Ni","s":"2.1 eV","x":0.68,"y":-5.2},{"p":"Ni","s":"2.1 eV","x":0.71,"y":-4.65},{"p":"Ni","s":"2.1 eV","x":0.74,"y":-4.75},{"p":"Ni","s":"2.1 eV","x":0.77,"y":-4.3},{"p":"Ni","s":"2.1 eV","x":0.81,"y":-4.04},{"p":"Ni","s":"2.1 eV","x":0.84,"y":-3.1},{"p":"Ni","s":"2.1 eV","x":0.87,"y":-1.9},{"p":"Ni","s":"2.1 eV","x":0.9,"y":-1.2},{"p":"Ni","s":"2.1 eV","x":0.95,"y":-1.02},{"p":"Ni","s":"2.1 eV","x":1,"y":-1.0},
{"p":"LJ","s":"1.1 eV","x":0,"y":0},{"p":"LJ","s":"1.1 eV","x":0.04,"y":0.2},{"p":"LJ","s":"1.1 eV","x":0.08,"y":0.29},{"p":"LJ","s":"1.1 eV","x":0.13,"y":0.0},{"p":"LJ","s":"1.1 eV","x":0.17,"y":-0.6},{"p":"LJ","s":"1.1 eV","x":0.21,"y":-1.35},{"p":"LJ","s":"1.1 eV","x":0.25,"y":-2.2},{"p":"LJ","s":"1.1 eV","x":0.3,"y":-3.2},{"p":"LJ","s":"1.1 eV","x":0.35,"y":-4.2},{"p":"LJ","s":"1.1 eV","x":0.41,"y":-5.2},{"p":"LJ","s":"1.1 eV","x":0.47,"y":-6.1},{"p":"LJ","s":"1.1 eV","x":0.53,"y":-6.65},{"p":"LJ","s":"1.1 eV","x":0.57,"y":-6.5},{"p":"LJ","s":"1.1 eV","x":0.61,"y":-6.0},{"p":"LJ","s":"1.1 eV","x":0.656,"y":-5.2},{"p":"LJ","s":"1.1 eV","x":0.7,"y":-4.4},{"p":"LJ","s":"1.1 eV","x":0.73,"y":-3.9},{"p":"LJ","s":"1.1 eV","x":0.76,"y":-3.2},{"p":"LJ","s":"1.1 eV","x":0.8,"y":-2.5},{"p":"LJ","s":"1.1 eV","x":0.84,"y":-1.8},{"p":"LJ","s":"1.1 eV","x":0.88,"y":-1.3},{"p":"LJ","s":"1.1 eV","x":0.93,"y":-1.05},{"p":"LJ","s":"1.1 eV","x":1,"y":-1.0},
{"p":"LJ","s":"1.4 eV","x":0,"y":0},{"p":"LJ","s":"1.4 eV","x":0.04,"y":0.25},{"p":"LJ","s":"1.4 eV","x":0.08,"y":0.45},{"p":"LJ","s":"1.4 eV","x":0.13,"y":0.1},{"p":"LJ","s":"1.4 eV","x":0.17,"y":-0.6},{"p":"LJ","s":"1.4 eV","x":0.21,"y":-1.35},{"p":"LJ","s":"1.4 eV","x":0.25,"y":-2.4},{"p":"LJ","s":"1.4 eV","x":0.3,"y":-3.7},{"p":"LJ","s":"1.4 eV","x":0.35,"y":-4.9},{"p":"LJ","s":"1.4 eV","x":0.41,"y":-6.2},{"p":"LJ","s":"1.4 eV","x":0.47,"y":-7.1},{"p":"LJ","s":"1.4 eV","x":0.53,"y":-7.67},{"p":"LJ","s":"1.4 eV","x":0.57,"y":-7.5},{"p":"LJ","s":"1.4 eV","x":0.61,"y":-6.9},{"p":"LJ","s":"1.4 eV","x":0.656,"y":-6.0},{"p":"LJ","s":"1.4 eV","x":0.7,"y":-5.0},{"p":"LJ","s":"1.4 eV","x":0.73,"y":-4.3},{"p":"LJ","s":"1.4 eV","x":0.76,"y":-3.6},{"p":"LJ","s":"1.4 eV","x":0.8,"y":-2.7},{"p":"LJ","s":"1.4 eV","x":0.84,"y":-1.9},{"p":"LJ","s":"1.4 eV","x":0.88,"y":-1.35},{"p":"LJ","s":"1.4 eV","x":0.93,"y":-1.05},{"p":"LJ","s":"1.4 eV","x":1,"y":-1.0},
{"p":"LJ","s":"1.6 eV","x":0,"y":0},{"p":"LJ","s":"1.6 eV","x":0.04,"y":0.3},{"p":"LJ","s":"1.6 eV","x":0.08,"y":0.55},{"p":"LJ","s":"1.6 eV","x":0.13,"y":0.15},{"p":"LJ","s":"1.6 eV","x":0.17,"y":-0.6},{"p":"LJ","s":"1.6 eV","x":0.21,"y":-1.35},{"p":"LJ","s":"1.6 eV","x":0.25,"y":-2.55},{"p":"LJ","s":"1.6 eV","x":0.3,"y":-4.0},{"p":"LJ","s":"1.6 eV","x":0.35,"y":-5.6},{"p":"LJ","s":"1.6 eV","x":0.41,"y":-7.3},{"p":"LJ","s":"1.6 eV","x":0.47,"y":-8.3},{"p":"LJ","s":"1.6 eV","x":0.53,"y":-8.8},{"p":"LJ","s":"1.6 eV","x":0.57,"y":-8.6},{"p":"LJ","s":"1.6 eV","x":0.61,"y":-7.9},{"p":"LJ","s":"1.6 eV","x":0.656,"y":-6.9},{"p":"LJ","s":"1.6 eV","x":0.7,"y":-5.5},{"p":"LJ","s":"1.6 eV","x":0.73,"y":-4.6},{"p":"LJ","s":"1.6 eV","x":0.76,"y":-3.9},{"p":"LJ","s":"1.6 eV","x":0.8,"y":-2.9},{"p":"LJ","s":"1.6 eV","x":0.84,"y":-2.0},{"p":"LJ","s":"1.6 eV","x":0.88,"y":-1.4},{"p":"LJ","s":"1.6 eV","x":0.93,"y":-1.05},{"p":"LJ","s":"1.6 eV","x":1,"y":-1.0},
{"p":"LJ","s":"1.9 eV","x":0,"y":0},{"p":"LJ","s":"1.9 eV","x":0.04,"y":0.4},{"p":"LJ","s":"1.9 eV","x":0.08,"y":0.69},{"p":"LJ","s":"1.9 eV","x":0.13,"y":0.25},{"p":"LJ","s":"1.9 eV","x":0.17,"y":-0.6},{"p":"LJ","s":"1.9 eV","x":0.21,"y":-1.35},{"p":"LJ","s":"1.9 eV","x":0.25,"y":-2.7},{"p":"LJ","s":"1.9 eV","x":0.3,"y":-4.5},{"p":"LJ","s":"1.9 eV","x":0.35,"y":-6.3},{"p":"LJ","s":"1.9 eV","x":0.41,"y":-8.3},{"p":"LJ","s":"1.9 eV","x":0.47,"y":-9.4},{"p":"LJ","s":"1.9 eV","x":0.53,"y":-9.9},{"p":"LJ","s":"1.9 eV","x":0.57,"y":-9.7},{"p":"LJ","s":"1.9 eV","x":0.61,"y":-8.9},{"p":"LJ","s":"1.9 eV","x":0.656,"y":-7.7},{"p":"LJ","s":"1.9 eV","x":0.7,"y":-6.0},{"p":"LJ","s":"1.9 eV","x":0.73,"y":-5.0},{"p":"LJ","s":"1.9 eV","x":0.76,"y":-4.2},{"p":"LJ","s":"1.9 eV","x":0.8,"y":-3.1},{"p":"LJ","s":"1.9 eV","x":0.84,"y":-2.1},{"p":"LJ","s":"1.9 eV","x":0.88,"y":-1.45},{"p":"LJ","s":"1.9 eV","x":0.93,"y":-1.05},{"p":"LJ","s":"1.9 eV","x":1,"y":-1.0}
],
"c":[
{"p":"CuZr","s":"(1.2, 1.8)","x":0.02,"y":0},{"p":"CuZr","s":"(1.2, 1.8)","x":0.05,"y":0.05},{"p":"CuZr","s":"(1.2, 1.8)","x":0.1,"y":0.34},{"p":"CuZr","s":"(1.2, 1.8)","x":0.15,"y":0.8},{"p":"CuZr","s":"(1.2, 1.8)","x":0.21,"y":1.32},{"p":"CuZr","s":"(1.2, 1.8)","x":0.26,"y":1.65},{"p":"CuZr","s":"(1.2, 1.8)","x":0.31,"y":1.89},{"p":"CuZr","s":"(1.2, 1.8)","x":0.37,"y":2.08},{"p":"CuZr","s":"(1.2, 1.8)","x":0.43,"y":2.16},{"p":"CuZr","s":"(1.2, 1.8)","x":0.5,"y":2.14},{"p":"CuZr","s":"(1.2, 1.8)","x":0.56,"y":2.08},{"p":"CuZr","s":"(1.2, 1.8)","x":0.64,"y":1.95},{"p":"CuZr","s":"(1.2, 1.8)","x":0.72,"y":1.82},{"p":"CuZr","s":"(1.2, 1.8)","x":0.78,"y":1.76},{"p":"CuZr","s":"(1.2, 1.8)","x":0.85,"y":1.74},{"p":"CuZr","s":"(1.2, 1.8)","x":0.93,"y":1.72},
{"p":"CuZr","s":"(1.8, 2.2)","x":0.02,"y":0},{"p":"CuZr","s":"(1.8, 2.2)","x":0.05,"y":0.05},{"p":"CuZr","s":"(1.8, 2.2)","x":0.1,"y":0.32},{"p":"CuZr","s":"(1.8, 2.2)","x":0.15,"y":0.75},{"p":"CuZr","s":"(1.8, 2.2)","x":0.21,"y":1.24},{"p":"CuZr","s":"(1.8, 2.2)","x":0.26,"y":1.57},{"p":"CuZr","s":"(1.8, 2.2)","x":0.31,"y":1.8},{"p":"CuZr","s":"(1.8, 2.2)","x":0.37,"y":1.98},{"p":"CuZr","s":"(1.8, 2.2)","x":0.43,"y":2.06},{"p":"CuZr","s":"(1.8, 2.2)","x":0.5,"y":2.07},{"p":"CuZr","s":"(1.8, 2.2)","x":0.56,"y":2.05},{"p":"CuZr","s":"(1.8, 2.2)","x":0.64,"y":1.95},{"p":"CuZr","s":"(1.8, 2.2)","x":0.72,"y":1.83},{"p":"CuZr","s":"(1.8, 2.2)","x":0.78,"y":1.77},{"p":"CuZr","s":"(1.8, 2.2)","x":0.85,"y":1.75},{"p":"CuZr","s":"(1.8, 2.2)","x":0.93,"y":1.73},
{"p":"CuZr","s":"(2.2, 2.8)","x":0.02,"y":0},{"p":"CuZr","s":"(2.2, 2.8)","x":0.05,"y":0.04},{"p":"CuZr","s":"(2.2, 2.8)","x":0.1,"y":0.28},{"p":"CuZr","s":"(2.2, 2.8)","x":0.15,"y":0.65},{"p":"CuZr","s":"(2.2, 2.8)","x":0.21,"y":1.07},{"p":"CuZr","s":"(2.2, 2.8)","x":0.26,"y":1.4},{"p":"CuZr","s":"(2.2, 2.8)","x":0.31,"y":1.64},{"p":"CuZr","s":"(2.2, 2.8)","x":0.37,"y":1.85},{"p":"CuZr","s":"(2.2, 2.8)","x":0.43,"y":1.95},{"p":"CuZr","s":"(2.2, 2.8)","x":0.5,"y":1.97},{"p":"CuZr","s":"(2.2, 2.8)","x":0.56,"y":1.97},{"p":"CuZr","s":"(2.2, 2.8)","x":0.64,"y":1.92},{"p":"CuZr","s":"(2.2, 2.8)","x":0.72,"y":1.84},{"p":"CuZr","s":"(2.2, 2.8)","x":0.78,"y":1.78},{"p":"CuZr","s":"(2.2, 2.8)","x":0.85,"y":1.75},{"p":"CuZr","s":"(2.2, 2.8)","x":0.93,"y":1.72},
{"p":"aSi","s":"(1.2, 1.8)","x":0.037,"y":0},{"p":"aSi","s":"(1.2, 1.8)","x":0.08,"y":0.01},{"p":"aSi","s":"(1.2, 1.8)","x":0.11,"y":0.05},{"p":"aSi","s":"(1.2, 1.8)","x":0.16,"y":0.26},{"p":"aSi","s":"(1.2, 1.8)","x":0.22,"y":0.5},{"p":"aSi","s":"(1.2, 1.8)","x":0.26,"y":0.64},{"p":"aSi","s":"(1.2, 1.8)","x":0.31,"y":0.75},{"p":"aSi","s":"(1.2, 1.8)","x":0.37,"y":0.83},{"p":"aSi","s":"(1.2, 1.8)","x":0.43,"y":0.91},{"p":"aSi","s":"(1.2, 1.8)","x":0.5,"y":1.0},{"p":"aSi","s":"(1.2, 1.8)","x":0.555,"y":1.07},{"p":"aSi","s":"(1.2, 1.8)","x":0.62,"y":1.16},{"p":"aSi","s":"(1.2, 1.8)","x":0.68,"y":1.25},{"p":"aSi","s":"(1.2, 1.8)","x":0.74,"y":1.35},{"p":"aSi","s":"(1.2, 1.8)","x":0.8,"y":1.42},{"p":"aSi","s":"(1.2, 1.8)","x":0.86,"y":1.42},{"p":"aSi","s":"(1.2, 1.8)","x":0.91,"y":1.4},
{"p":"aSi","s":"(1.8, 2.2)","x":0.037,"y":0},{"p":"aSi","s":"(1.8, 2.2)","x":0.08,"y":0.01},{"p":"aSi","s":"(1.8, 2.2)","x":0.11,"y":0.05},{"p":"aSi","s":"(1.8, 2.2)","x":0.16,"y":0.26},{"p":"aSi","s":"(1.8, 2.2)","x":0.22,"y":0.5},{"p":"aSi","s":"(1.8, 2.2)","x":0.26,"y":0.63},{"p":"aSi","s":"(1.8, 2.2)","x":0.31,"y":0.74},{"p":"aSi","s":"(1.8, 2.2)","x":0.37,"y":0.83},{"p":"aSi","s":"(1.8, 2.2)","x":0.43,"y":0.92},{"p":"aSi","s":"(1.8, 2.2)","x":0.5,"y":1.01},{"p":"aSi","s":"(1.8, 2.2)","x":0.555,"y":1.09},{"p":"aSi","s":"(1.8, 2.2)","x":0.62,"y":1.2},{"p":"aSi","s":"(1.8, 2.2)","x":0.68,"y":1.35},{"p":"aSi","s":"(1.8, 2.2)","x":0.74,"y":1.55},{"p":"aSi","s":"(1.8, 2.2)","x":0.8,"y":1.75},{"p":"aSi","s":"(1.8, 2.2)","x":0.86,"y":1.8},{"p":"aSi","s":"(1.8, 2.2)","x":0.91,"y":1.79},
{"p":"aSi","s":"(2.2, 2.8)","x":0.037,"y":0},{"p":"aSi","s":"(2.2, 2.8)","x":0.08,"y":0.01},{"p":"aSi","s":"(2.2, 2.8)","x":0.11,"y":0.06},{"p":"aSi","s":"(2.2, 2.8)","x":0.16,"y":0.28},{"p":"aSi","s":"(2.2, 2.8)","x":0.22,"y":0.52},{"p":"aSi","s":"(2.2, 2.8)","x":0.26,"y":0.66},{"p":"aSi","s":"(2.2, 2.8)","x":0.31,"y":0.76},{"p":"aSi","s":"(2.2, 2.8)","x":0.37,"y":0.84},{"p":"aSi","s":"(2.2, 2.8)","x":0.43,"y":0.92},{"p":"aSi","s":"(2.2, 2.8)","x":0.5,"y":1.0},{"p":"aSi","s":"(2.2, 2.8)","x":0.555,"y":1.08},{"p":"aSi","s":"(2.2, 2.8)","x":0.62,"y":1.18},{"p":"aSi","s":"(2.2, 2.8)","x":0.68,"y":1.28},{"p":"aSi","s":"(2.2, 2.8)","x":0.74,"y":1.38},{"p":"aSi","s":"(2.2, 2.8)","x":0.8,"y":1.46},{"p":"aSi","s":"(2.2, 2.8)","x":0.86,"y":1.47},{"p":"aSi","s":"(2.2, 2.8)","x":0.91,"y":1.45},
{"p":"Ni","s":"(1.4, 1.6)","x":0.014,"y":0},{"p":"Ni","s":"(1.4, 1.6)","x":0.04,"y":0.2},{"p":"Ni","s":"(1.4, 1.6)","x":0.066,"y":0.42},{"p":"Ni","s":"(1.4, 1.6)","x":0.1,"y":0.75},{"p":"Ni","s":"(1.4, 1.6)","x":0.149,"y":1.07},{"p":"Ni","s":"(1.4, 1.6)","x":0.2,"y":1.24},{"p":"Ni","s":"(1.4, 1.6)","x":0.263,"y":1.28},{"p":"Ni","s":"(1.4, 1.6)","x":0.31,"y":1.2},{"p":"Ni","s":"(1.4, 1.6)","x":0.356,"y":1.07},{"p":"Ni","s":"(1.4, 1.6)","x":0.41,"y":0.82},{"p":"Ni","s":"(1.4, 1.6)","x":0.46,"y":0.55},{"p":"Ni","s":"(1.4, 1.6)","x":0.51,"y":0.27},{"p":"Ni","s":"(1.4, 1.6)","x":0.563,"y":0.02},{"p":"Ni","s":"(1.4, 1.6)","x":0.62,"y":-0.22},{"p":"Ni","s":"(1.4, 1.6)","x":0.68,"y":-0.4},{"p":"Ni","s":"(1.4, 1.6)","x":0.72,"y":-0.5},{"p":"Ni","s":"(1.4, 1.6)","x":0.77,"y":-0.6},{"p":"Ni","s":"(1.4, 1.6)","x":0.83,"y":-0.72},{"p":"Ni","s":"(1.4, 1.6)","x":0.88,"y":-0.8},{"p":"Ni","s":"(1.4, 1.6)","x":0.936,"y":-0.85},
{"p":"Ni","s":"(1.6, 1.9)","x":0.014,"y":0},{"p":"Ni","s":"(1.6, 1.9)","x":0.04,"y":0.2},{"p":"Ni","s":"(1.6, 1.9)","x":0.066,"y":0.43},{"p":"Ni","s":"(1.6, 1.9)","x":0.1,"y":0.78},{"p":"Ni","s":"(1.6, 1.9)","x":0.149,"y":1.12},{"p":"Ni","s":"(1.6, 1.9)","x":0.2,"y":1.33},{"p":"Ni","s":"(1.6, 1.9)","x":0.263,"y":1.4},{"p":"Ni","s":"(1.6, 1.9)","x":0.31,"y":1.35},{"p":"Ni","s":"(1.6, 1.9)","x":0.356,"y":1.24},{"p":"Ni","s":"(1.6, 1.9)","x":0.41,"y":0.98},{"p":"Ni","s":"(1.6, 1.9)","x":0.46,"y":0.76},{"p":"Ni","s":"(1.6, 1.9)","x":0.51,"y":0.5},{"p":"Ni","s":"(1.6, 1.9)","x":0.563,"y":0.26},{"p":"Ni","s":"(1.6, 1.9)","x":0.62,"y":0.03},{"p":"Ni","s":"(1.6, 1.9)","x":0.68,"y":-0.15},{"p":"Ni","s":"(1.6, 1.9)","x":0.72,"y":-0.24},{"p":"Ni","s":"(1.6, 1.9)","x":0.77,"y":-0.31},{"p":"Ni","s":"(1.6, 1.9)","x":0.83,"y":-0.42},{"p":"Ni","s":"(1.6, 1.9)","x":0.88,"y":-0.5},{"p":"Ni","s":"(1.6, 1.9)","x":0.936,"y":-0.55},
{"p":"Ni","s":"(1.9, 2.1)","x":0.014,"y":0},{"p":"Ni","s":"(1.9, 2.1)","x":0.04,"y":0.19},{"p":"Ni","s":"(1.9, 2.1)","x":0.066,"y":0.4},{"p":"Ni","s":"(1.9, 2.1)","x":0.1,"y":0.72},{"p":"Ni","s":"(1.9, 2.1)","x":0.149,"y":1.02},{"p":"Ni","s":"(1.9, 2.1)","x":0.2,"y":1.16},{"p":"Ni","s":"(1.9, 2.1)","x":0.263,"y":1.19},{"p":"Ni","s":"(1.9, 2.1)","x":0.31,"y":1.12},{"p":"Ni","s":"(1.9, 2.1)","x":0.356,"y":1.02},{"p":"Ni","s":"(1.9, 2.1)","x":0.41,"y":0.8},{"p":"Ni","s":"(1.9, 2.1)","x":0.46,"y":0.56},{"p":"Ni","s":"(1.9, 2.1)","x":0.51,"y":0.32},{"p":"Ni","s":"(1.9, 2.1)","x":0.563,"y":0.1},{"p":"Ni","s":"(1.9, 2.1)","x":0.62,"y":-0.14},{"p":"Ni","s":"(1.9, 2.1)","x":0.68,"y":-0.32},{"p":"Ni","s":"(1.9, 2.1)","x":0.72,"y":-0.42},{"p":"Ni","s":"(1.9, 2.1)","x":0.77,"y":-0.52},{"p":"Ni","s":"(1.9, 2.1)","x":0.83,"y":-0.64},{"p":"Ni","s":"(1.9, 2.1)","x":0.88,"y":-0.72},{"p":"Ni","s":"(1.9, 2.1)","x":0.936,"y":-0.75},
{"p":"LJ","s":"(1.1, 1.4)","x":0.004,"y":0},{"p":"LJ","s":"(1.1, 1.4)","x":0.04,"y":0.28},{"p":"LJ","s":"(1.1, 1.4)","x":0.097,"y":0.67},{"p":"LJ","s":"(1.1, 1.4)","x":0.15,"y":0.95},{"p":"LJ","s":"(1.1, 1.4)","x":0.2,"y":1.1},{"p":"LJ","s":"(1.1, 1.4)","x":0.23,"y":1.11},{"p":"LJ","s":"(1.1, 1.4)","x":0.28,"y":0.95},{"p":"LJ","s":"(1.1, 1.4)","x":0.346,"y":0.42},{"p":"LJ","s":"(1.1, 1.4)","x":0.41,"y":-0.3},{"p":"LJ","s":"(1.1, 1.4)","x":0.47,"y":-0.88},{"p":"LJ","s":"(1.1, 1.4)","x":0.54,"y":-1.45},{"p":"LJ","s":"(1.1, 1.4)","x":0.615,"y":-1.85},{"p":"LJ","s":"(1.1, 1.4)","x":0.68,"y":-2.2},{"p":"LJ","s":"(1.1, 1.4)","x":0.74,"y":-2.42},{"p":"LJ","s":"(1.1, 1.4)","x":0.8,"y":-2.52},{"p":"LJ","s":"(1.1, 1.4)","x":0.86,"y":-2.57},{"p":"LJ","s":"(1.1, 1.4)","x":0.925,"y":-2.59},
{"p":"LJ","s":"(1.4, 1.6)","x":0.004,"y":0},{"p":"LJ","s":"(1.4, 1.6)","x":0.04,"y":0.3},{"p":"LJ","s":"(1.4, 1.6)","x":0.097,"y":0.72},{"p":"LJ","s":"(1.4, 1.6)","x":0.15,"y":1.08},{"p":"LJ","s":"(1.4, 1.6)","x":0.2,"y":1.28},{"p":"LJ","s":"(1.4, 1.6)","x":0.23,"y":1.32},{"p":"LJ","s":"(1.4, 1.6)","x":0.28,"y":1.18},{"p":"LJ","s":"(1.4, 1.6)","x":0.346,"y":0.75},{"p":"LJ","s":"(1.4, 1.6)","x":0.41,"y":0.15},{"p":"LJ","s":"(1.4, 1.6)","x":0.47,"y":-0.39},{"p":"LJ","s":"(1.4, 1.6)","x":0.54,"y":-0.95},{"p":"LJ","s":"(1.4, 1.6)","x":0.615,"y":-1.37},{"p":"LJ","s":"(1.4, 1.6)","x":0.68,"y":-1.75},{"p":"LJ","s":"(1.4, 1.6)","x":0.74,"y":-2.02},{"p":"LJ","s":"(1.4, 1.6)","x":0.8,"y":-2.12},{"p":"LJ","s":"(1.4, 1.6)","x":0.86,"y":-2.16},{"p":"LJ","s":"(1.4, 1.6)","x":0.925,"y":-2.18},
{"p":"LJ","s":"(1.6, 1.9)","x":0.004,"y":0},{"p":"LJ","s":"(1.6, 1.9)","x":0.04,"y":0.29},{"p":"LJ","s":"(1.6, 1.9)","x":0.097,"y":0.7},{"p":"LJ","s":"(1.6, 1.9)","x":0.15,"y":1.05},{"p":"LJ","s":"(1.6, 1.9)","x":0.2,"y":1.25},{"p":"LJ","s":"(1.6, 1.9)","x":0.23,"y":1.27},{"p":"LJ","s":"(1.6, 1.9)","x":0.28,"y":1.14},{"p":"LJ","s":"(1.6, 1.9)","x":0.346,"y":0.72},{"p":"LJ","s":"(1.6, 1.9)","x":0.41,"y":0.12},{"p":"LJ","s":"(1.6, 1.9)","x":0.47,"y":-0.42},{"p":"LJ","s":"(1.6, 1.9)","x":0.54,"y":-0.97},{"p":"LJ","s":"(1.6, 1.9)","x":0.615,"y":-1.38},{"p":"LJ","s":"(1.6, 1.9)","x":0.68,"y":-1.76},{"p":"LJ","s":"(1.6, 1.9)","x":0.74,"y":-2.02},{"p":"LJ","s":"(1.6, 1.9)","x":0.8,"y":-2.13},{"p":"LJ","s":"(1.6, 1.9)","x":0.86,"y":-2.17},{"p":"LJ","s":"(1.6, 1.9)","x":0.925,"y":-2.18}
],
"ref":[
{"p":"bCuZr","x1":0.5,"x2":1,"y":-1},{"p":"baSi","x1":0.5,"x2":1,"y":-1},{"p":"bNi","x1":0.5,"x2":1,"y":-1},{"p":"bLJ","x1":0.5,"x2":1,"y":-1},
{"p":"cCuZr","x1":0.5,"x2":1,"y":1.67},{"p":"caSi","x1":0.5,"x2":1,"y":1.53},{"p":"cNi","x1":0.5,"x2":1,"y":-0.72},{"p":"cLJ","x1":0.5,"x2":1,"y":-2.1}
]
},
"vconcat":[
{"vconcat":[
{"hconcat":[
 {"width":161,"height":114,"layer":[
  {"data":{"name":"a"},"transform":[{"filter":"datum.p==='CuZr'"}],
   "encoding":{
    "x":{"field":"x","type":"quantitative","scale":{"domain":[0,1],"nice":false},"axis":{"values":[0,0.1,0.2,0.3,0.4,0.5,0.6,0.7,0.8,0.9,1],"labels":false,"title":null,"offset":-3}},
    "y":{"field":"y","type":"quantitative","scale":{"domain":[0,3],"nice":false},"axis":{"values":[0,1,2,3],"format":"~g","labelOverlap":false,"title":"Normalized VDOS","offset":-3,"labelPadding":5,"titlePadding":8,"minExtent":0}},
    "color":{"field":"s","type":"nominal","scale":{"domain":["ISs","TSs (1.8 eV)","4 × P(ν̃)"],"range":["#000000","#4caf50","#ee2b2b"]},"legend":{"title":null,"orient":"top-left","columns":2,"offset":7,"clipHeight":11,"rowPadding":0,"columnPadding":2,"symbolStrokeWidth":2}},
    "strokeDash":{"field":"s","type":"nominal","scale":{"domain":["ISs","TSs (1.8 eV)","4 × P(ν̃)"],"range":[[1,0],[4,3],[1,0]]},"legend":{"title":null,"orient":"top-left","columns":2,"offset":7,"clipHeight":11,"rowPadding":0,"columnPadding":2,"symbolStrokeWidth":2}}},
   "layer":[
    {"transform":[{"filter":"datum.s==='4 × P(ν̃)'"}],"mark":{"type":"line","clip":true,"strokeWidth":1,"interpolate":"monotone"}},
    {"transform":[{"filter":"datum.s==='ISs'"}],"mark":{"type":"line","clip":true,"strokeWidth":2.5,"interpolate":"monotone"}},
    {"transform":[{"filter":"datum.s!=='ISs' && datum.s!=='4 × P(ν̃)'"}],"mark":{"type":"line","clip":true,"strokeWidth":1.5,"interpolate":"monotone"}}
   ]},
  {"data":{"values":[{"t":"CuZr"}]},"mark":{"type":"text","fontSize":11,"baseline":"middle","align":"center"},"encoding":{"text":{"field":"t"},"x":{"datum":0.5,"type":"quantitative","axis":{"values":[0,0.1,0.2,0.3,0.4,0.5,0.6,0.7,0.8,0.9,1],"labels":false,"title":null,"offset":-3}},"y":{"datum":3.35,"type":"quantitative","axis":{"values":[0,1,2,3],"format":"~g","labelOverlap":false,"title":"Normalized VDOS","offset":-3,"labelPadding":5,"titlePadding":8,"minExtent":0}}}},
  {"data":{"values":[{"t":"a"}]},"mark":{"type":"text","fontWeight":"bold","fontSize":13,"align":"left","baseline":"middle"},"encoding":{"text":{"field":"t"},"x":{"datum":-0.29,"type":"quantitative","axis":{"values":[0,0.1,0.2,0.3,0.4,0.5,0.6,0.7,0.8,0.9,1],"labels":false,"title":null,"offset":-3}},"y":{"datum":3.37,"type":"quantitative","axis":{"values":[0,1,2,3],"format":"~g","labelOverlap":false,"title":"Normalized VDOS","offset":-3,"labelPadding":5,"titlePadding":8,"minExtent":0}}}}
 ]},
 {"width":161,"height":114,"layer":[
  {"data":{"name":"a"},"transform":[{"filter":"datum.p==='aSi'"}],
   "encoding":{
    "x":{"field":"x","type":"quantitative","scale":{"domain":[0,1],"nice":false},"axis":{"values":[0,0.1,0.2,0.3,0.4,0.5,0.6,0.7,0.8,0.9,1],"labels":false,"title":null,"offset":-3}},
    "y":{"field":"y","type":"quantitative","scale":{"domain":[0,3],"nice":false},"axis":{"values":[0,0.5,1,1.5,2,2.5,3],"labels":false,"title":null,"offset":-3,"minExtent":0}},
    "color":{"field":"s","type":"nominal","scale":{"domain":["ISs","TSs (1.8 eV)","4 × P(ν̃)"],"range":["#000000","#4caf50","#ee2b2b"]},"legend":{"title":null,"orient":"top-left","columns":2,"offset":7,"clipHeight":11,"rowPadding":0,"columnPadding":2,"symbolStrokeWidth":2}},
    "strokeDash":{"field":"s","type":"nominal","scale":{"domain":["ISs","TSs (1.8 eV)","4 × P(ν̃)"],"range":[[1,0],[4,3],[1,0]]},"legend":{"title":null,"orient":"top-left","columns":2,"offset":7,"clipHeight":11,"rowPadding":0,"columnPadding":2,"symbolStrokeWidth":2}}},
   "layer":[
    {"transform":[{"filter":"datum.s==='4 × P(ν̃)'"}],"mark":{"type":"line","clip":true,"strokeWidth":1,"interpolate":"monotone"}},
    {"transform":[{"filter":"datum.s==='ISs'"}],"mark":{"type":"line","clip":true,"strokeWidth":2.5,"interpolate":"monotone"}},
    {"transform":[{"filter":"datum.s!=='ISs' && datum.s!=='4 × P(ν̃)'"}],"mark":{"type":"line","clip":true,"strokeWidth":1.5,"interpolate":"monotone"}}
   ]},
  {"data":{"values":[{"t":"a-Si"}]},"mark":{"type":"text","fontSize":11,"baseline":"middle","align":"center"},"encoding":{"text":{"field":"t"},"x":{"datum":0.5,"type":"quantitative","axis":{"values":[0,0.1,0.2,0.3,0.4,0.5,0.6,0.7,0.8,0.9,1],"labels":false,"title":null,"offset":-3}},"y":{"datum":3.35,"type":"quantitative","axis":{"values":[0,0.5,1,1.5,2,2.5,3],"labels":false,"title":null,"offset":-3,"minExtent":0}}}}
 ]},
 {"width":161,"height":114,"layer":[
  {"data":{"name":"a"},"transform":[{"filter":"datum.p==='Ni'"}],
   "encoding":{
    "x":{"field":"x","type":"quantitative","scale":{"domain":[0,1],"nice":false},"axis":{"values":[0,0.1,0.2,0.3,0.4,0.5,0.6,0.7,0.8,0.9,1],"labels":false,"title":null,"offset":-3}},
    "y":{"field":"y","type":"quantitative","scale":{"domain":[0,3],"nice":false},"axis":{"values":[0,0.5,1,1.5,2,2.5,3],"labels":false,"title":null,"offset":-3,"minExtent":0}},
    "color":{"field":"s","type":"nominal","scale":{"domain":["ISs","TSs (1.6 eV)","4 × P(ν̃)"],"range":["#000000","#4caf50","#ee2b2b"]},"legend":{"title":null,"orient":"top-left","columns":2,"offset":7,"clipHeight":11,"rowPadding":0,"columnPadding":2,"symbolStrokeWidth":2}},
    "strokeDash":{"field":"s","type":"nominal","scale":{"domain":["ISs","TSs (1.6 eV)","4 × P(ν̃)"],"range":[[1,0],[4,3],[1,0]]},"legend":{"title":null,"orient":"top-left","columns":2,"offset":7,"clipHeight":11,"rowPadding":0,"columnPadding":2,"symbolStrokeWidth":2}}},
   "layer":[
    {"transform":[{"filter":"datum.s==='4 × P(ν̃)'"}],"mark":{"type":"line","clip":true,"strokeWidth":1,"interpolate":"monotone"}},
    {"transform":[{"filter":"datum.s==='ISs'"}],"mark":{"type":"line","clip":true,"strokeWidth":2.5,"interpolate":"monotone"}},
    {"transform":[{"filter":"datum.s!=='ISs' && datum.s!=='4 × P(ν̃)'"}],"mark":{"type":"line","clip":true,"strokeWidth":1.5,"interpolate":"monotone"}}
   ]},
  {"data":{"values":[{"t":"Ni₈₀P₂₀"}]},"mark":{"type":"text","fontSize":11,"baseline":"middle","align":"center"},"encoding":{"text":{"field":"t"},"x":{"datum":0.5,"type":"quantitative","axis":{"values":[0,0.1,0.2,0.3,0.4,0.5,0.6,0.7,0.8,0.9,1],"labels":false,"title":null,"offset":-3}},"y":{"datum":3.35,"type":"quantitative","axis":{"values":[0,0.5,1,1.5,2,2.5,3],"labels":false,"title":null,"offset":-3,"minExtent":0}}}}
 ]},
 {"width":161,"height":114,"layer":[
  {"data":{"name":"a"},"transform":[{"filter":"datum.p==='LJ'"}],
   "encoding":{
    "x":{"field":"x","type":"quantitative","scale":{"domain":[0,1],"nice":false},"axis":{"values":[0,0.1,0.2,0.3,0.4,0.5,0.6,0.7,0.8,0.9,1],"labels":false,"title":null,"offset":-3}},
    "y":{"field":"y","type":"quantitative","scale":{"domain":[0,3],"nice":false},"axis":{"values":[0,0.5,1,1.5,2,2.5,3],"labels":false,"title":null,"offset":-3,"minExtent":0}},
    "color":{"field":"s","type":"nominal","scale":{"domain":["ISs","TSs (1.4 eV)","4 × P(ν̃)"],"range":["#000000","#4caf50","#ee2b2b"]},"legend":{"title":null,"orient":"top-left","columns":2,"offset":7,"clipHeight":11,"rowPadding":0,"columnPadding":2,"symbolStrokeWidth":2}},
    "strokeDash":{"field":"s","type":"nominal","scale":{"domain":["ISs","TSs (1.4 eV)","4 × P(ν̃)"],"range":[[1,0],[4,3],[1,0]]},"legend":{"title":null,"orient":"top-left","columns":2,"offset":7,"clipHeight":11,"rowPadding":0,"columnPadding":2,"symbolStrokeWidth":2}}},
   "layer":[
    {"transform":[{"filter":"datum.s==='4 × P(ν̃)'"}],"mark":{"type":"line","clip":true,"strokeWidth":1,"interpolate":"monotone"}},
    {"transform":[{"filter":"datum.s==='ISs'"}],"mark":{"type":"line","clip":true,"strokeWidth":2.5,"interpolate":"monotone"}},
    {"transform":[{"filter":"datum.s!=='ISs' && datum.s!=='4 × P(ν̃)'"}],"mark":{"type":"line","clip":true,"strokeWidth":1.5,"interpolate":"monotone"}}
   ]},
  {"data":{"values":[{"t":"LJ"}]},"mark":{"type":"text","fontSize":11,"baseline":"middle","align":"center"},"encoding":{"text":{"field":"t"},"x":{"datum":0.5,"type":"quantitative","axis":{"values":[0,0.1,0.2,0.3,0.4,0.5,0.6,0.7,0.8,0.9,1],"labels":false,"title":null,"offset":-3}},"y":{"datum":3.35,"type":"quantitative","axis":{"values":[0,0.5,1,1.5,2,2.5,3],"labels":false,"title":null,"offset":-3,"minExtent":0}}}}
 ]}
],"spacing":20,"resolve":{"scale":{"x":"independent","y":"independent","color":"independent","strokeDash":"independent"}}},
{"hconcat":[
 {"width":161,"height":114,"layer":[
  {"data":{"name":"b"},"transform":[{"filter":"datum.p==='CuZr'"}],"mark":{"type":"line","clip":true,"strokeWidth":1.2,"interpolate":"monotone"},
   "encoding":{
    "x":{"field":"x","type":"quantitative","scale":{"domain":[0,1],"nice":false},"axis":{"values":[0,0.1,0.2,0.3,0.4,0.5,0.6,0.7,0.8,0.9,1],"labels":false,"title":null,"offset":-3}},
    "y":{"field":"y","type":"quantitative","scale":{"domain":[-10,4],"nice":false},"axis":{"values":[-8,-4,0,4],"format":"~g","labelOverlap":false,"title":"VDOS shifts (Cum.)","offset":-3,"labelPadding":5,"titlePadding":8,"minExtent":0}},
    "color":{"field":"s","type":"nominal","scale":{"domain":["1.2 eV","1.8 eV","2.2 eV","2.8 eV"],"range":["#b87fd8","#4dbb4d","#ff9933","#b5673d"]},"legend":{"title":null,"orient":"bottom-left","columns":2,"offset":8}}}},
  {"data":{"name":"ref"},"transform":[{"filter":"datum.p==='bCuZr'"}],"mark":{"type":"rule","strokeDash":[2,2],"color":"#000","strokeWidth":1},"encoding":{"x":{"field":"x1","type":"quantitative","axis":{"values":[0,0.1,0.2,0.3,0.4,0.5,0.6,0.7,0.8,0.9,1],"labels":false,"title":null,"offset":-3}},"x2":{"field":"x2"},"y":{"field":"y","type":"quantitative","axis":{"values":[-8,-4,0,4],"format":"~g","labelOverlap":false,"title":"VDOS shifts (Cum.)","offset":-3,"labelPadding":5,"titlePadding":8,"minExtent":0}}}},
  {"data":{"values":[{"t":"b"}]},"mark":{"type":"text","fontWeight":"bold","fontSize":13,"align":"left","baseline":"middle"},"encoding":{"text":{"field":"t"},"x":{"datum":-0.29,"type":"quantitative","axis":{"values":[0,0.1,0.2,0.3,0.4,0.5,0.6,0.7,0.8,0.9,1],"labels":false,"title":null,"offset":-3}},"y":{"datum":5.5,"type":"quantitative","axis":{"values":[-8,-4,0,4],"format":"~g","labelOverlap":false,"title":"VDOS shifts (Cum.)","offset":-3,"labelPadding":5,"titlePadding":8,"minExtent":0}}}}
 ]},
 {"width":161,"height":114,"layer":[
  {"data":{"name":"b"},"transform":[{"filter":"datum.p==='aSi'"}],"mark":{"type":"line","clip":true,"strokeWidth":1.2,"interpolate":"monotone"},
   "encoding":{
    "x":{"field":"x","type":"quantitative","scale":{"domain":[0,1],"nice":false},"axis":{"values":[0,0.1,0.2,0.3,0.4,0.5,0.6,0.7,0.8,0.9,1],"labels":false,"title":null,"offset":-3}},
    "y":{"field":"y","type":"quantitative","scale":{"domain":[-10,4],"nice":false},"axis":{"values":[-10,-8,-6,-4,-2,0,2,4],"labels":false,"title":null,"offset":-3,"minExtent":0}},
    "color":{"field":"s","type":"nominal","scale":{"domain":["1.2 eV","1.8 eV","2.2 eV","2.8 eV"],"range":["#b87fd8","#4dbb4d","#ff9933","#b5673d"]},"legend":{"title":null,"orient":"bottom-left","columns":2,"offset":8}}}},
  {"data":{"name":"ref"},"transform":[{"filter":"datum.p==='baSi'"}],"mark":{"type":"rule","strokeDash":[2,2],"color":"#000","strokeWidth":1},"encoding":{"x":{"field":"x1","type":"quantitative","axis":{"values":[0,0.1,0.2,0.3,0.4,0.5,0.6,0.7,0.8,0.9,1],"labels":false,"title":null,"offset":-3}},"x2":{"field":"x2"},"y":{"field":"y","type":"quantitative","axis":{"values":[-10,-8,-6,-4,-2,0,2,4],"labels":false,"title":null,"offset":-3,"minExtent":0}}}}
 ]},
 {"width":161,"height":114,"layer":[
  {"data":{"name":"b"},"transform":[{"filter":"datum.p==='Ni'"}],"mark":{"type":"line","clip":true,"strokeWidth":1.2,"interpolate":"monotone"},
   "encoding":{
    "x":{"field":"x","type":"quantitative","scale":{"domain":[0,1],"nice":false},"axis":{"values":[0,0.1,0.2,0.3,0.4,0.5,0.6,0.7,0.8,0.9,1],"labels":false,"title":null,"offset":-3}},
    "y":{"field":"y","type":"quantitative","scale":{"domain":[-10,4],"nice":false},"axis":{"values":[-10,-8,-6,-4,-2,0,2,4],"labels":false,"title":null,"offset":-3,"minExtent":0}},
    "color":{"field":"s","type":"nominal","scale":{"domain":["1.4 eV","1.6 eV","1.9 eV","2.1 eV"],"range":["#b87fd8","#4dbb4d","#ff9933","#b5673d"]},"legend":{"title":null,"orient":"top-right","columns":2,"offset":8}}}},
  {"data":{"name":"ref"},"transform":[{"filter":"datum.p==='bNi'"}],"mark":{"type":"rule","strokeDash":[2,2],"color":"#000","strokeWidth":1},"encoding":{"x":{"field":"x1","type":"quantitative","axis":{"values":[0,0.1,0.2,0.3,0.4,0.5,0.6,0.7,0.8,0.9,1],"labels":false,"title":null,"offset":-3}},"x2":{"field":"x2"},"y":{"field":"y","type":"quantitative","axis":{"values":[-10,-8,-6,-4,-2,0,2,4],"labels":false,"title":null,"offset":-3,"minExtent":0}}}}
 ]},
 {"width":161,"height":114,"layer":[
  {"data":{"name":"b"},"transform":[{"filter":"datum.p==='LJ'"}],"mark":{"type":"line","clip":true,"strokeWidth":1.2,"interpolate":"monotone"},
   "encoding":{
    "x":{"field":"x","type":"quantitative","scale":{"domain":[0,1],"nice":false},"axis":{"values":[0,0.1,0.2,0.3,0.4,0.5,0.6,0.7,0.8,0.9,1],"labels":false,"title":null,"offset":-3}},
    "y":{"field":"y","type":"quantitative","scale":{"domain":[-10,4],"nice":false},"axis":{"values":[-10,-8,-6,-4,-2,0,2,4],"labels":false,"title":null,"offset":-3,"minExtent":0}},
    "color":{"field":"s","type":"nominal","scale":{"domain":["1.1 eV","1.4 eV","1.6 eV","1.9 eV"],"range":["#b87fd8","#4dbb4d","#ff9933","#b5673d"]},"legend":{"title":null,"orient":"top-right","columns":2,"offset":8}}}},
  {"data":{"name":"ref"},"transform":[{"filter":"datum.p==='bLJ'"}],"mark":{"type":"rule","strokeDash":[2,2],"color":"#000","strokeWidth":1},"encoding":{"x":{"field":"x1","type":"quantitative","axis":{"values":[0,0.1,0.2,0.3,0.4,0.5,0.6,0.7,0.8,0.9,1],"labels":false,"title":null,"offset":-3}},"x2":{"field":"x2"},"y":{"field":"y","type":"quantitative","axis":{"values":[-10,-8,-6,-4,-2,0,2,4],"labels":false,"title":null,"offset":-3,"minExtent":0}}}}
 ]}
],"spacing":20,"resolve":{"scale":{"x":"independent","y":"independent","color":"independent"}}}
],"spacing":6,"resolve":{"scale":{"x":"independent","y":"independent","color":"independent","strokeDash":"independent"}}},
{"hconcat":[
 {"width":161,"height":113,"layer":[
  {"data":{"name":"c"},"transform":[{"filter":"datum.p==='CuZr'"}],"mark":{"type":"line","clip":true,"strokeWidth":1.2,"interpolate":"monotone"},
   "encoding":{
    "x":{"field":"x","type":"quantitative","scale":{"domain":[0,1],"nice":false},"axis":{"values":[0,0.1,0.2,0.3,0.4,0.5,0.6,0.7,0.8,0.9,1],"format":"~g","labelExpr":"round(datum.value*10)%2===0 ? datum.label : ''","labelOverlap":false,"labelFlush":false,"title":"Normalized frequency, ν̃","titleFont":"DejaVu Sans","titleFontSize":10.5,"offset":-3,"labelPadding":3,"titlePadding":4,"minExtent":0}},
    "y":{"field":"y","type":"quantitative","scale":{"domain":[-3,2.5],"nice":false},"axis":{"values":[-3,-2,-1,0,1,2],"format":"~g","labelOverlap":false,"title":"γc(ν̃, ΔEₙ) (Cum.)","titleFont":"DejaVu Sans","titleFontSize":10.5,"offset":-3,"labelPadding":5,"titlePadding":8,"minExtent":0}},
    "color":{"field":"s","type":"nominal","scale":{"domain":["(1.2, 1.8)","(1.8, 2.2)","(2.2, 2.8)"],"range":["#b87fd8","#4dbb4d","#ff9933"]},"legend":{"title":null,"orient":"bottom-left","offset":8}}}},
  {"data":{"name":"ref"},"transform":[{"filter":"datum.p==='cCuZr'"}],"mark":{"type":"rule","strokeDash":[2,2],"color":"#000","strokeWidth":1},"encoding":{"x":{"field":"x1","type":"quantitative","axis":{"values":[0,0.1,0.2,0.3,0.4,0.5,0.6,0.7,0.8,0.9,1],"format":"~g","labelExpr":"round(datum.value*10)%2===0 ? datum.label : ''","labelOverlap":false,"labelFlush":false,"title":"Normalized frequency, ν̃","titleFont":"DejaVu Sans","titleFontSize":10.5,"offset":-3,"labelPadding":3,"titlePadding":4,"minExtent":0}},"x2":{"field":"x2"},"y":{"field":"y","type":"quantitative","axis":{"values":[-3,-2,-1,0,1,2],"format":"~g","labelOverlap":false,"title":"γc(ν̃, ΔEₙ) (Cum.)","titleFont":"DejaVu Sans","titleFontSize":10.5,"offset":-3,"labelPadding":5,"titlePadding":8,"minExtent":0}}}},
  {"data":{"values":[{"t":"c"}]},"mark":{"type":"text","fontWeight":"bold","fontSize":13,"align":"left","baseline":"middle"},"encoding":{"text":{"field":"t"},"x":{"datum":-0.29,"type":"quantitative","axis":{"values":[0,0.1,0.2,0.3,0.4,0.5,0.6,0.7,0.8,0.9,1],"format":"~g","labelExpr":"round(datum.value*10)%2===0 ? datum.label : ''","labelOverlap":false,"labelFlush":false,"title":"Normalized frequency, ν̃","titleFont":"DejaVu Sans","titleFontSize":10.5,"offset":-3,"labelPadding":3,"titlePadding":4,"minExtent":0}},"y":{"datum":2.94,"type":"quantitative","axis":{"values":[-3,-2,-1,0,1,2],"format":"~g","labelOverlap":false,"title":"γc(ν̃, ΔEₙ) (Cum.)","titleFont":"DejaVu Sans","titleFontSize":10.5,"offset":-3,"labelPadding":5,"titlePadding":8,"minExtent":0}}}}
 ]},
 {"width":161,"height":113,"layer":[
  {"data":{"name":"c"},"transform":[{"filter":"datum.p==='aSi'"}],"mark":{"type":"line","clip":true,"strokeWidth":1.2,"interpolate":"monotone"},
   "encoding":{
    "x":{"field":"x","type":"quantitative","scale":{"domain":[0,1],"nice":false},"axis":{"values":[0,0.1,0.2,0.3,0.4,0.5,0.6,0.7,0.8,0.9,1],"format":"~g","labelExpr":"round(datum.value*10)%2===0 ? datum.label : ''","labelOverlap":false,"labelFlush":false,"title":"Normalized frequency, ν̃","titleFont":"DejaVu Sans","titleFontSize":10.5,"offset":-3,"labelPadding":3,"titlePadding":4,"minExtent":0}},
    "y":{"field":"y","type":"quantitative","scale":{"domain":[-3,2.5],"nice":false},"axis":{"values":[-3,-2.5,-2,-1.5,-1,-0.5,0,0.5,1,1.5,2,2.5],"labels":false,"title":null,"offset":-3,"minExtent":0}},
    "color":{"field":"s","type":"nominal","scale":{"domain":["(1.2, 1.8)","(1.8, 2.2)","(2.2, 2.8)"],"range":["#b87fd8","#4dbb4d","#ff9933"]},"legend":{"title":null,"orient":"bottom-left","offset":8}}}},
  {"data":{"name":"ref"},"transform":[{"filter":"datum.p==='caSi'"}],"mark":{"type":"rule","strokeDash":[2,2],"color":"#000","strokeWidth":1},"encoding":{"x":{"field":"x1","type":"quantitative","axis":{"values":[0,0.1,0.2,0.3,0.4,0.5,0.6,0.7,0.8,0.9,1],"format":"~g","labelExpr":"round(datum.value*10)%2===0 ? datum.label : ''","labelOverlap":false,"labelFlush":false,"title":"Normalized frequency, ν̃","titleFont":"DejaVu Sans","titleFontSize":10.5,"offset":-3,"labelPadding":3,"titlePadding":4,"minExtent":0}},"x2":{"field":"x2"},"y":{"field":"y","type":"quantitative","axis":{"values":[-3,-2.5,-2,-1.5,-1,-0.5,0,0.5,1,1.5,2,2.5],"labels":false,"title":null,"offset":-3,"minExtent":0}}}}
 ]},
 {"width":161,"height":113,"layer":[
  {"data":{"name":"c"},"transform":[{"filter":"datum.p==='Ni'"}],"mark":{"type":"line","clip":true,"strokeWidth":1.2,"interpolate":"monotone"},
   "encoding":{
    "x":{"field":"x","type":"quantitative","scale":{"domain":[0,1],"nice":false},"axis":{"values":[0,0.1,0.2,0.3,0.4,0.5,0.6,0.7,0.8,0.9,1],"format":"~g","labelExpr":"round(datum.value*10)%2===0 ? datum.label : ''","labelOverlap":false,"labelFlush":false,"title":"Normalized frequency, ν̃","titleFont":"DejaVu Sans","titleFontSize":10.5,"offset":-3,"labelPadding":3,"titlePadding":4,"minExtent":0}},
    "y":{"field":"y","type":"quantitative","scale":{"domain":[-3,2.5],"nice":false},"axis":{"values":[-3,-2.5,-2,-1.5,-1,-0.5,0,0.5,1,1.5,2,2.5],"labels":false,"title":null,"offset":-3,"minExtent":0}},
    "color":{"field":"s","type":"nominal","scale":{"domain":["(1.4, 1.6)","(1.6, 1.9)","(1.9, 2.1)"],"range":["#b87fd8","#4dbb4d","#ff9933"]},"legend":{"title":null,"orient":"bottom-left","offset":8}}}},
  {"data":{"name":"ref"},"transform":[{"filter":"datum.p==='cNi'"}],"mark":{"type":"rule","strokeDash":[2,2],"color":"#000","strokeWidth":1},"encoding":{"x":{"field":"x1","type":"quantitative","axis":{"values":[0,0.1,0.2,0.3,0.4,0.5,0.6,0.7,0.8,0.9,1],"format":"~g","labelExpr":"round(datum.value*10)%2===0 ? datum.label : ''","labelOverlap":false,"labelFlush":false,"title":"Normalized frequency, ν̃","titleFont":"DejaVu Sans","titleFontSize":10.5,"offset":-3,"labelPadding":3,"titlePadding":4,"minExtent":0}},"x2":{"field":"x2"},"y":{"field":"y","type":"quantitative","axis":{"values":[-3,-2.5,-2,-1.5,-1,-0.5,0,0.5,1,1.5,2,2.5],"labels":false,"title":null,"offset":-3,"minExtent":0}}}}
 ]},
 {"width":161,"height":113,"layer":[
  {"data":{"name":"c"},"transform":[{"filter":"datum.p==='LJ'"}],"mark":{"type":"line","clip":true,"strokeWidth":1.2,"interpolate":"monotone"},
   "encoding":{
    "x":{"field":"x","type":"quantitative","scale":{"domain":[0,1],"nice":false},"axis":{"values":[0,0.1,0.2,0.3,0.4,0.5,0.6,0.7,0.8,0.9,1],"format":"~g","labelExpr":"round(datum.value*10)%2===0 ? datum.label : ''","labelOverlap":false,"labelFlush":false,"title":"Normalized frequency, ν̃","titleFont":"DejaVu Sans","titleFontSize":10.5,"offset":-3,"labelPadding":3,"titlePadding":4,"minExtent":0}},
    "y":{"field":"y","type":"quantitative","scale":{"domain":[-3,2.5],"nice":false},"axis":{"values":[-3,-2.5,-2,-1.5,-1,-0.5,0,0.5,1,1.5,2,2.5],"labels":false,"title":null,"offset":-3,"minExtent":0}},
    "color":{"field":"s","type":"nominal","scale":{"domain":["(1.1, 1.4)","(1.4, 1.6)","(1.6, 1.9)"],"range":["#a45cc8","#4dbb4d","#ff9933"]},"legend":{"title":null,"orient":"top-right","offset":8}}}},
  {"data":{"name":"ref"},"transform":[{"filter":"datum.p==='cLJ'"}],"mark":{"type":"rule","strokeDash":[2,2],"color":"#000","strokeWidth":1},"encoding":{"x":{"field":"x1","type":"quantitative","axis":{"values":[0,0.1,0.2,0.3,0.4,0.5,0.6,0.7,0.8,0.9,1],"format":"~g","labelExpr":"round(datum.value*10)%2===0 ? datum.label : ''","labelOverlap":false,"labelFlush":false,"title":"Normalized frequency, ν̃","titleFont":"DejaVu Sans","titleFontSize":10.5,"offset":-3,"labelPadding":3,"titlePadding":4,"minExtent":0}},"x2":{"field":"x2"},"y":{"field":"y","type":"quantitative","axis":{"values":[-3,-2.5,-2,-1.5,-1,-0.5,0,0.5,1,1.5,2,2.5],"labels":false,"title":null,"offset":-3,"minExtent":0}}}}
 ]}
],"spacing":14,"resolve":{"scale":{"x":"independent","y":"independent","color":"independent"}}}
],
"spacing":9,
"resolve":{"scale":{"x":"independent","y":"independent","color":"independent","strokeDash":"independent"}}
}
